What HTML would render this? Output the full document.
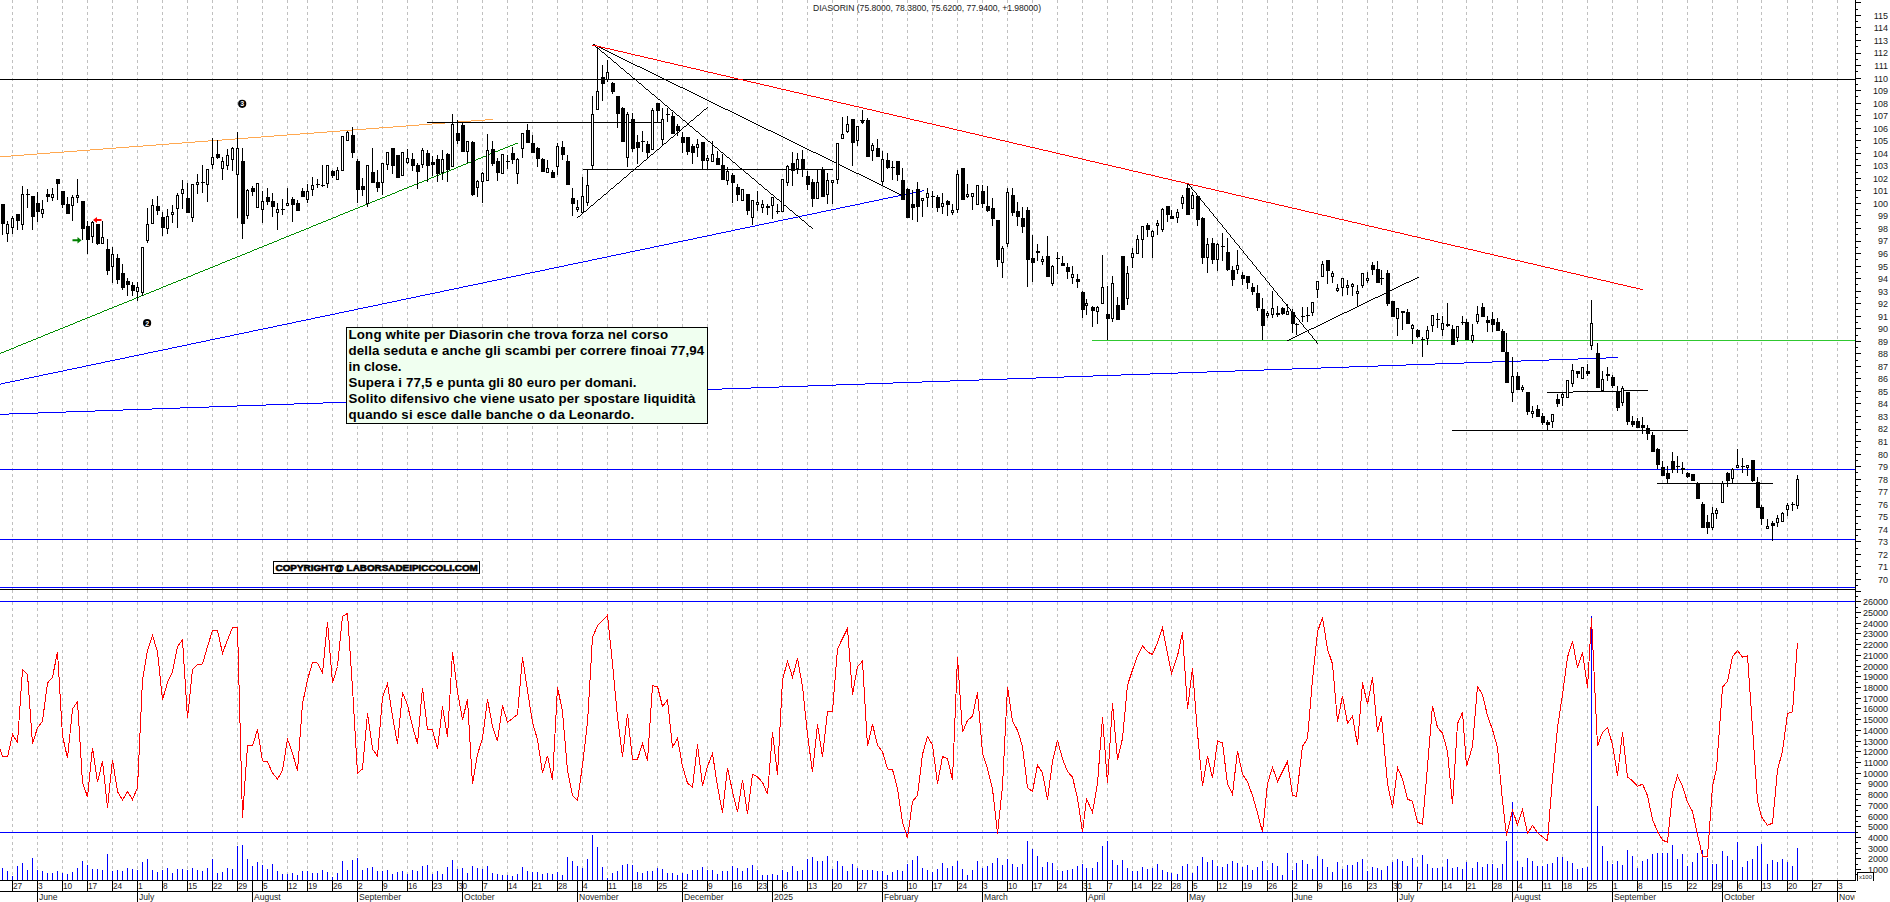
<!DOCTYPE html><html><head><meta charset="utf-8"><title>DIASORIN</title><style>html,body{margin:0;padding:0;background:#fff;overflow:hidden}body{width:1890px;height:902px;position:relative;font-family:"Liberation Sans",sans-serif}</style></head><body><svg width="1890" height="902" viewBox="0 0 1890 902" style="position:absolute;left:0;top:0">
<rect width="1890" height="902" fill="#fff"/>
<g stroke="#c0c0c0" stroke-width="1" shape-rendering="crispEdges" stroke-dasharray="3 3">
<line x1="12.5" y1="0" x2="12.5" y2="589"/>
<line x1="12.5" y1="590" x2="12.5" y2="880"/>
<line x1="37.5" y1="0" x2="37.5" y2="589"/>
<line x1="37.5" y1="590" x2="37.5" y2="880"/>
<line x1="62.5" y1="0" x2="62.5" y2="589"/>
<line x1="62.5" y1="590" x2="62.5" y2="880"/>
<line x1="87.5" y1="0" x2="87.5" y2="589"/>
<line x1="87.5" y1="590" x2="87.5" y2="880"/>
<line x1="112.5" y1="0" x2="112.5" y2="589"/>
<line x1="112.5" y1="590" x2="112.5" y2="880"/>
<line x1="137.5" y1="0" x2="137.5" y2="589"/>
<line x1="137.5" y1="590" x2="137.5" y2="880"/>
<line x1="162.5" y1="0" x2="162.5" y2="589"/>
<line x1="162.5" y1="590" x2="162.5" y2="880"/>
<line x1="187.5" y1="0" x2="187.5" y2="589"/>
<line x1="187.5" y1="590" x2="187.5" y2="880"/>
<line x1="212.5" y1="0" x2="212.5" y2="589"/>
<line x1="212.5" y1="590" x2="212.5" y2="880"/>
<line x1="237.5" y1="0" x2="237.5" y2="589"/>
<line x1="237.5" y1="590" x2="237.5" y2="880"/>
<line x1="262.5" y1="0" x2="262.5" y2="589"/>
<line x1="262.5" y1="590" x2="262.5" y2="880"/>
<line x1="287.5" y1="0" x2="287.5" y2="589"/>
<line x1="287.5" y1="590" x2="287.5" y2="880"/>
<line x1="307.5" y1="0" x2="307.5" y2="589"/>
<line x1="307.5" y1="590" x2="307.5" y2="880"/>
<line x1="332.5" y1="0" x2="332.5" y2="589"/>
<line x1="332.5" y1="590" x2="332.5" y2="880"/>
<line x1="357.5" y1="0" x2="357.5" y2="589"/>
<line x1="357.5" y1="590" x2="357.5" y2="880"/>
<line x1="382.5" y1="0" x2="382.5" y2="589"/>
<line x1="382.5" y1="590" x2="382.5" y2="880"/>
<line x1="407.5" y1="0" x2="407.5" y2="589"/>
<line x1="407.5" y1="590" x2="407.5" y2="880"/>
<line x1="432.5" y1="0" x2="432.5" y2="589"/>
<line x1="432.5" y1="590" x2="432.5" y2="880"/>
<line x1="457.5" y1="0" x2="457.5" y2="589"/>
<line x1="457.5" y1="590" x2="457.5" y2="880"/>
<line x1="482.5" y1="0" x2="482.5" y2="589"/>
<line x1="482.5" y1="590" x2="482.5" y2="880"/>
<line x1="507.5" y1="0" x2="507.5" y2="589"/>
<line x1="507.5" y1="590" x2="507.5" y2="880"/>
<line x1="532.5" y1="0" x2="532.5" y2="589"/>
<line x1="532.5" y1="590" x2="532.5" y2="880"/>
<line x1="557.5" y1="0" x2="557.5" y2="589"/>
<line x1="557.5" y1="590" x2="557.5" y2="880"/>
<line x1="582.5" y1="0" x2="582.5" y2="589"/>
<line x1="582.5" y1="590" x2="582.5" y2="880"/>
<line x1="607.5" y1="0" x2="607.5" y2="589"/>
<line x1="607.5" y1="590" x2="607.5" y2="880"/>
<line x1="632.5" y1="0" x2="632.5" y2="589"/>
<line x1="632.5" y1="590" x2="632.5" y2="880"/>
<line x1="657.5" y1="0" x2="657.5" y2="589"/>
<line x1="657.5" y1="590" x2="657.5" y2="880"/>
<line x1="682.5" y1="0" x2="682.5" y2="589"/>
<line x1="682.5" y1="590" x2="682.5" y2="880"/>
<line x1="707.5" y1="0" x2="707.5" y2="589"/>
<line x1="707.5" y1="590" x2="707.5" y2="880"/>
<line x1="732.5" y1="0" x2="732.5" y2="589"/>
<line x1="732.5" y1="590" x2="732.5" y2="880"/>
<line x1="757.5" y1="0" x2="757.5" y2="589"/>
<line x1="757.5" y1="590" x2="757.5" y2="880"/>
<line x1="782.5" y1="0" x2="782.5" y2="589"/>
<line x1="782.5" y1="590" x2="782.5" y2="880"/>
<line x1="807.5" y1="0" x2="807.5" y2="589"/>
<line x1="807.5" y1="590" x2="807.5" y2="880"/>
<line x1="832.5" y1="0" x2="832.5" y2="589"/>
<line x1="832.5" y1="590" x2="832.5" y2="880"/>
<line x1="857.5" y1="0" x2="857.5" y2="589"/>
<line x1="857.5" y1="590" x2="857.5" y2="880"/>
<line x1="882.5" y1="0" x2="882.5" y2="589"/>
<line x1="882.5" y1="590" x2="882.5" y2="880"/>
<line x1="907.5" y1="0" x2="907.5" y2="589"/>
<line x1="907.5" y1="590" x2="907.5" y2="880"/>
<line x1="932.5" y1="0" x2="932.5" y2="589"/>
<line x1="932.5" y1="590" x2="932.5" y2="880"/>
<line x1="957.5" y1="0" x2="957.5" y2="589"/>
<line x1="957.5" y1="590" x2="957.5" y2="880"/>
<line x1="982.5" y1="0" x2="982.5" y2="589"/>
<line x1="982.5" y1="590" x2="982.5" y2="880"/>
<line x1="1007.5" y1="0" x2="1007.5" y2="589"/>
<line x1="1007.5" y1="590" x2="1007.5" y2="880"/>
<line x1="1032.5" y1="0" x2="1032.5" y2="589"/>
<line x1="1032.5" y1="590" x2="1032.5" y2="880"/>
<line x1="1057.5" y1="0" x2="1057.5" y2="589"/>
<line x1="1057.5" y1="590" x2="1057.5" y2="880"/>
<line x1="1082.5" y1="0" x2="1082.5" y2="589"/>
<line x1="1082.5" y1="590" x2="1082.5" y2="880"/>
<line x1="1107.5" y1="0" x2="1107.5" y2="589"/>
<line x1="1107.5" y1="590" x2="1107.5" y2="880"/>
<line x1="1132.5" y1="0" x2="1132.5" y2="589"/>
<line x1="1132.5" y1="590" x2="1132.5" y2="880"/>
<line x1="1152.5" y1="0" x2="1152.5" y2="589"/>
<line x1="1152.5" y1="590" x2="1152.5" y2="880"/>
<line x1="1171.5" y1="0" x2="1171.5" y2="589"/>
<line x1="1171.5" y1="590" x2="1171.5" y2="880"/>
<line x1="1192.5" y1="0" x2="1192.5" y2="589"/>
<line x1="1192.5" y1="590" x2="1192.5" y2="880"/>
<line x1="1217.5" y1="0" x2="1217.5" y2="589"/>
<line x1="1217.5" y1="590" x2="1217.5" y2="880"/>
<line x1="1242.5" y1="0" x2="1242.5" y2="589"/>
<line x1="1242.5" y1="590" x2="1242.5" y2="880"/>
<line x1="1267.5" y1="0" x2="1267.5" y2="589"/>
<line x1="1267.5" y1="590" x2="1267.5" y2="880"/>
<line x1="1292.5" y1="0" x2="1292.5" y2="589"/>
<line x1="1292.5" y1="590" x2="1292.5" y2="880"/>
<line x1="1317.5" y1="0" x2="1317.5" y2="589"/>
<line x1="1317.5" y1="590" x2="1317.5" y2="880"/>
<line x1="1342.5" y1="0" x2="1342.5" y2="589"/>
<line x1="1342.5" y1="590" x2="1342.5" y2="880"/>
<line x1="1367.5" y1="0" x2="1367.5" y2="589"/>
<line x1="1367.5" y1="590" x2="1367.5" y2="880"/>
<line x1="1392.5" y1="0" x2="1392.5" y2="589"/>
<line x1="1392.5" y1="590" x2="1392.5" y2="880"/>
<line x1="1417.5" y1="0" x2="1417.5" y2="589"/>
<line x1="1417.5" y1="590" x2="1417.5" y2="880"/>
<line x1="1442.5" y1="0" x2="1442.5" y2="589"/>
<line x1="1442.5" y1="590" x2="1442.5" y2="880"/>
<line x1="1466.5" y1="0" x2="1466.5" y2="589"/>
<line x1="1466.5" y1="590" x2="1466.5" y2="880"/>
<line x1="1492.5" y1="0" x2="1492.5" y2="589"/>
<line x1="1492.5" y1="590" x2="1492.5" y2="880"/>
<line x1="1517.5" y1="0" x2="1517.5" y2="589"/>
<line x1="1517.5" y1="590" x2="1517.5" y2="880"/>
<line x1="1542.5" y1="0" x2="1542.5" y2="589"/>
<line x1="1542.5" y1="590" x2="1542.5" y2="880"/>
<line x1="1562.5" y1="0" x2="1562.5" y2="589"/>
<line x1="1562.5" y1="590" x2="1562.5" y2="880"/>
<line x1="1587.5" y1="0" x2="1587.5" y2="589"/>
<line x1="1587.5" y1="590" x2="1587.5" y2="880"/>
<line x1="1612.5" y1="0" x2="1612.5" y2="589"/>
<line x1="1612.5" y1="590" x2="1612.5" y2="880"/>
<line x1="1637.5" y1="0" x2="1637.5" y2="589"/>
<line x1="1637.5" y1="590" x2="1637.5" y2="880"/>
<line x1="1662.5" y1="0" x2="1662.5" y2="589"/>
<line x1="1662.5" y1="590" x2="1662.5" y2="880"/>
<line x1="1687.5" y1="0" x2="1687.5" y2="589"/>
<line x1="1687.5" y1="590" x2="1687.5" y2="880"/>
<line x1="1712.5" y1="0" x2="1712.5" y2="589"/>
<line x1="1712.5" y1="590" x2="1712.5" y2="880"/>
<line x1="1737.5" y1="0" x2="1737.5" y2="589"/>
<line x1="1737.5" y1="590" x2="1737.5" y2="880"/>
<line x1="1761.5" y1="0" x2="1761.5" y2="589"/>
<line x1="1761.5" y1="590" x2="1761.5" y2="880"/>
<line x1="1787.5" y1="0" x2="1787.5" y2="589"/>
<line x1="1787.5" y1="590" x2="1787.5" y2="880"/>
<line x1="1812.5" y1="0" x2="1812.5" y2="589"/>
<line x1="1812.5" y1="590" x2="1812.5" y2="880"/>
<line x1="1837.5" y1="0" x2="1837.5" y2="589"/>
<line x1="1837.5" y1="590" x2="1837.5" y2="880"/>
</g>
<g shape-rendering="crispEdges">
<path d="M0 79h1856v1h-1856z" fill="#000"/>
<path d="M0 469h1856v1h-1856z" fill="#0000ff"/>
<path d="M0 539h1856v1h-1856z" fill="#0000ff"/>
<path d="M0 587h1856v1h-1856z" fill="#0000ff"/>
<path d="M0 589h1856v1h-1856z" fill="#000"/>
<path d="M0 601h1856v1h-1856z" fill="#0000ff"/>
<path d="M0 832h1856v1h-1856z" fill="#0000ff"/>
<path d="M1092 340h764v1h-764z" fill="#30c830"/>
<path d="M0 156h11v1h-11zM11 155h13v1h-13zM24 154h13v1h-13zM37 153h13v1h-13zM50 152h14v1h-14zM64 151h13v1h-13zM77 150h13v1h-13zM90 149h13v1h-13zM103 148h13v1h-13zM116 147h13v1h-13zM129 146h14v1h-14zM143 145h13v1h-13zM156 144h13v1h-13zM169 143h13v1h-13zM182 142h13v1h-13zM195 141h13v1h-13zM208 140h14v1h-14zM222 139h13v1h-13zM235 138h13v1h-13zM248 137h13v1h-13zM261 136h13v1h-13zM274 135h13v1h-13zM287 134h13v1h-13zM300 133h14v1h-14zM314 132h13v1h-13zM327 131h13v1h-13zM340 130h13v1h-13zM353 129h13v1h-13zM366 128h13v1h-13zM379 127h14v1h-14zM393 126h13v1h-13zM406 125h13v1h-13zM419 124h13v1h-13zM432 123h13v1h-13zM445 122h13v1h-13zM458 121h13v1h-13zM471 120h14v1h-14zM485 119h8v1h-8z" fill="#ffa850"/>
<path d="M0 353h1v1h-1zM1 352h3v1h-3zM4 351h2v1h-2zM6 350h3v1h-3zM9 349h2v1h-2zM11 348h3v1h-3zM14 347h2v1h-2zM16 346h2v1h-2zM18 345h3v1h-3zM21 344h2v1h-2zM23 343h3v1h-3zM26 342h2v1h-2zM28 341h3v1h-3zM31 340h2v1h-2zM33 339h3v1h-3zM36 338h2v1h-2zM38 337h3v1h-3zM41 336h2v1h-2zM43 335h2v1h-2zM45 334h3v1h-3zM48 333h2v1h-2zM50 332h3v1h-3zM53 331h2v1h-2zM55 330h3v1h-3zM58 329h2v1h-2zM60 328h3v1h-3zM63 327h2v1h-2zM65 326h3v1h-3zM68 325h2v1h-2zM70 324h3v1h-3zM73 323h2v1h-2zM75 322h2v1h-2zM77 321h3v1h-3zM80 320h2v1h-2zM82 319h3v1h-3zM85 318h2v1h-2zM87 317h3v1h-3zM90 316h2v1h-2zM92 315h3v1h-3zM95 314h2v1h-2zM97 313h3v1h-3zM100 312h2v1h-2zM102 311h2v1h-2zM104 310h3v1h-3zM107 309h2v1h-2zM109 308h3v1h-3zM112 307h2v1h-2zM114 306h3v1h-3zM117 305h2v1h-2zM119 304h3v1h-3zM122 303h2v1h-2zM124 302h3v1h-3zM127 301h2v1h-2zM129 300h3v1h-3zM132 299h2v1h-2zM134 298h2v1h-2zM136 297h3v1h-3zM139 296h2v1h-2zM141 295h3v1h-3zM144 294h2v1h-2zM146 293h3v1h-3zM149 292h2v1h-2zM151 291h3v1h-3zM154 290h2v1h-2zM156 289h3v1h-3zM159 288h2v1h-2zM161 287h2v1h-2zM163 286h3v1h-3zM166 285h2v1h-2zM168 284h3v1h-3zM171 283h2v1h-2zM173 282h3v1h-3zM176 281h2v1h-2zM178 280h3v1h-3zM181 279h2v1h-2zM183 278h3v1h-3zM186 277h2v1h-2zM188 276h3v1h-3zM191 275h2v1h-2zM193 274h2v1h-2zM195 273h3v1h-3zM198 272h2v1h-2zM200 271h3v1h-3zM203 270h2v1h-2zM205 269h3v1h-3zM208 268h2v1h-2zM210 267h3v1h-3zM213 266h2v1h-2zM215 265h3v1h-3zM218 264h2v1h-2zM220 263h2v1h-2zM222 262h3v1h-3zM225 261h2v1h-2zM227 260h3v1h-3zM230 259h2v1h-2zM232 258h3v1h-3zM235 257h2v1h-2zM237 256h3v1h-3zM240 255h2v1h-2zM242 254h3v1h-3zM245 253h2v1h-2zM247 252h3v1h-3zM250 251h2v1h-2zM252 250h2v1h-2zM254 249h3v1h-3zM257 248h2v1h-2zM259 247h3v1h-3zM262 246h2v1h-2zM264 245h3v1h-3zM267 244h2v1h-2zM269 243h3v1h-3zM272 242h2v1h-2zM274 241h3v1h-3zM277 240h2v1h-2zM279 239h2v1h-2zM281 238h3v1h-3zM284 237h2v1h-2zM286 236h3v1h-3zM289 235h2v1h-2zM291 234h3v1h-3zM294 233h2v1h-2zM296 232h3v1h-3zM299 231h2v1h-2zM301 230h3v1h-3zM304 229h2v1h-2zM306 228h3v1h-3zM309 227h2v1h-2zM311 226h2v1h-2zM313 225h3v1h-3zM316 224h2v1h-2zM318 223h3v1h-3zM321 222h2v1h-2zM323 221h3v1h-3zM326 220h2v1h-2zM328 219h3v1h-3zM331 218h2v1h-2zM333 217h3v1h-3zM336 216h2v1h-2zM338 215h2v1h-2zM340 214h3v1h-3zM343 213h2v1h-2zM345 212h3v1h-3zM348 211h2v1h-2zM350 210h3v1h-3zM353 209h2v1h-2zM355 208h3v1h-3zM358 207h2v1h-2zM360 206h3v1h-3zM363 205h2v1h-2zM365 204h3v1h-3zM368 203h2v1h-2zM370 202h2v1h-2zM372 201h3v1h-3zM375 200h2v1h-2zM377 199h3v1h-3zM380 198h2v1h-2zM382 197h3v1h-3zM385 196h2v1h-2zM387 195h3v1h-3zM390 194h2v1h-2zM392 193h3v1h-3zM395 192h2v1h-2zM397 191h2v1h-2zM399 190h3v1h-3zM402 189h2v1h-2zM404 188h3v1h-3zM407 187h2v1h-2zM409 186h3v1h-3zM412 185h2v1h-2zM414 184h3v1h-3zM417 183h2v1h-2zM419 182h3v1h-3zM422 181h2v1h-2zM424 180h3v1h-3zM427 179h2v1h-2zM429 178h2v1h-2zM431 177h3v1h-3zM434 176h2v1h-2zM436 175h3v1h-3zM439 174h2v1h-2zM441 173h3v1h-3zM444 172h2v1h-2zM446 171h3v1h-3zM449 170h2v1h-2zM451 169h3v1h-3zM454 168h2v1h-2zM456 167h2v1h-2zM458 166h3v1h-3zM461 165h2v1h-2zM463 164h3v1h-3zM466 163h2v1h-2zM468 162h3v1h-3zM471 161h2v1h-2zM473 160h3v1h-3zM476 159h2v1h-2zM478 158h3v1h-3zM481 157h2v1h-2zM483 156h3v1h-3zM486 155h2v1h-2zM488 154h2v1h-2zM490 153h3v1h-3zM493 152h2v1h-2zM495 151h3v1h-3zM498 150h2v1h-2zM500 149h3v1h-3zM503 148h2v1h-2zM505 147h3v1h-3zM508 146h2v1h-2zM510 145h3v1h-3zM513 144h2v1h-2zM515 143h3v1h-3z" fill="#008c00"/>
<path d="M0 384h1v1h-1zM1 383h4v1h-4zM5 382h5v1h-5zM10 381h5v1h-5zM15 380h5v1h-5zM20 379h4v1h-4zM24 378h5v1h-5zM29 377h5v1h-5zM34 376h5v1h-5zM39 375h4v1h-4zM43 374h5v1h-5zM48 373h5v1h-5zM53 372h5v1h-5zM58 371h5v1h-5zM63 370h4v1h-4zM67 369h5v1h-5zM72 368h5v1h-5zM77 367h5v1h-5zM82 366h4v1h-4zM86 365h5v1h-5zM91 364h5v1h-5zM96 363h5v1h-5zM101 362h4v1h-4zM105 361h5v1h-5zM110 360h5v1h-5zM115 359h5v1h-5zM120 358h5v1h-5zM125 357h4v1h-4zM129 356h5v1h-5zM134 355h5v1h-5zM139 354h5v1h-5zM144 353h4v1h-4zM148 352h5v1h-5zM153 351h5v1h-5zM158 350h5v1h-5zM163 349h5v1h-5zM168 348h4v1h-4zM172 347h5v1h-5zM177 346h5v1h-5zM182 345h5v1h-5zM187 344h4v1h-4zM191 343h5v1h-5zM196 342h5v1h-5zM201 341h5v1h-5zM206 340h4v1h-4zM210 339h5v1h-5zM215 338h5v1h-5zM220 337h5v1h-5zM225 336h5v1h-5zM230 335h4v1h-4zM234 334h5v1h-5zM239 333h5v1h-5zM244 332h5v1h-5zM249 331h4v1h-4zM253 330h5v1h-5zM258 329h5v1h-5zM263 328h5v1h-5zM268 327h5v1h-5zM273 326h4v1h-4zM277 325h5v1h-5zM282 324h5v1h-5zM287 323h5v1h-5zM292 322h4v1h-4zM296 321h5v1h-5zM301 320h5v1h-5zM306 319h5v1h-5zM311 318h4v1h-4zM315 317h5v1h-5zM320 316h5v1h-5zM325 315h5v1h-5zM330 314h5v1h-5zM335 313h4v1h-4zM339 312h5v1h-5zM344 311h5v1h-5zM349 310h5v1h-5zM354 309h4v1h-4zM358 308h5v1h-5zM363 307h5v1h-5zM368 306h5v1h-5zM373 305h5v1h-5zM378 304h4v1h-4zM382 303h5v1h-5zM387 302h5v1h-5zM392 301h5v1h-5zM397 300h4v1h-4zM401 299h5v1h-5zM406 298h5v1h-5zM411 297h5v1h-5zM416 296h4v1h-4zM420 295h5v1h-5zM425 294h5v1h-5zM430 293h5v1h-5zM435 292h5v1h-5zM440 291h4v1h-4zM444 290h5v1h-5zM449 289h5v1h-5zM454 288h5v1h-5zM459 287h4v1h-4zM463 286h5v1h-5zM468 285h5v1h-5zM473 284h5v1h-5zM478 283h5v1h-5zM483 282h4v1h-4zM487 281h5v1h-5zM492 280h5v1h-5zM497 279h5v1h-5zM502 278h4v1h-4zM506 277h5v1h-5zM511 276h5v1h-5zM516 275h5v1h-5zM521 274h4v1h-4zM525 273h5v1h-5zM530 272h5v1h-5zM535 271h5v1h-5zM540 270h5v1h-5zM545 269h4v1h-4zM549 268h5v1h-5zM554 267h5v1h-5zM559 266h5v1h-5zM564 265h4v1h-4zM568 264h5v1h-5zM573 263h5v1h-5zM578 262h5v1h-5zM583 261h5v1h-5zM588 260h4v1h-4zM592 259h5v1h-5zM597 258h5v1h-5zM602 257h5v1h-5zM607 256h4v1h-4zM611 255h5v1h-5zM616 254h5v1h-5zM621 253h5v1h-5zM626 252h4v1h-4zM630 251h5v1h-5zM635 250h5v1h-5zM640 249h5v1h-5zM645 248h5v1h-5zM650 247h4v1h-4zM654 246h5v1h-5zM659 245h5v1h-5zM664 244h5v1h-5zM669 243h4v1h-4zM673 242h5v1h-5zM678 241h5v1h-5zM683 240h5v1h-5zM688 239h5v1h-5zM693 238h4v1h-4zM697 237h5v1h-5zM702 236h5v1h-5zM707 235h5v1h-5zM712 234h4v1h-4zM716 233h5v1h-5zM721 232h5v1h-5zM726 231h5v1h-5zM731 230h4v1h-4zM735 229h5v1h-5zM740 228h5v1h-5zM745 227h5v1h-5zM750 226h5v1h-5zM755 225h4v1h-4zM759 224h5v1h-5zM764 223h5v1h-5zM769 222h5v1h-5zM774 221h4v1h-4zM778 220h5v1h-5zM783 219h5v1h-5zM788 218h5v1h-5zM793 217h5v1h-5zM798 216h4v1h-4zM802 215h5v1h-5zM807 214h5v1h-5zM812 213h5v1h-5zM817 212h4v1h-4zM821 211h5v1h-5zM826 210h5v1h-5zM831 209h5v1h-5zM836 208h4v1h-4zM840 207h5v1h-5zM845 206h5v1h-5zM850 205h5v1h-5zM855 204h5v1h-5zM860 203h4v1h-4zM864 202h5v1h-5zM869 201h5v1h-5zM874 200h5v1h-5zM879 199h4v1h-4zM883 198h5v1h-5zM888 197h5v1h-5zM893 196h5v1h-5zM898 195h5v1h-5zM903 194h4v1h-4zM907 193h5v1h-5zM912 192h5v1h-5zM917 191h5v1h-5zM922 190h2v1h-2z" fill="#0000ff"/>
<path d="M0 414h9v1h-9zM9 413h29v1h-29zM38 412h28v1h-28zM66 411h29v1h-29zM95 410h28v1h-28zM123 409h29v1h-29zM152 408h28v1h-28zM180 407h29v1h-29zM209 406h28v1h-28zM237 405h29v1h-29zM266 404h28v1h-28zM294 403h29v1h-29zM323 402h28v1h-28zM351 401h29v1h-29zM380 400h28v1h-28zM408 399h29v1h-29zM437 398h28v1h-28zM465 397h29v1h-29zM494 396h28v1h-28zM522 395h29v1h-29zM551 394h28v1h-28zM579 393h29v1h-29zM608 392h28v1h-28zM636 391h29v1h-29zM665 390h29v1h-29zM694 389h28v1h-28zM722 388h29v1h-29zM751 387h28v1h-28zM779 386h29v1h-29zM808 385h28v1h-28zM836 384h29v1h-29zM865 383h28v1h-28zM893 382h29v1h-29zM922 381h28v1h-28zM950 380h29v1h-29zM979 379h28v1h-28zM1007 378h29v1h-29zM1036 377h28v1h-28zM1064 376h29v1h-29zM1093 375h28v1h-28zM1121 374h29v1h-29zM1150 373h28v1h-28zM1178 372h29v1h-29zM1207 371h28v1h-28zM1235 370h29v1h-29zM1264 369h28v1h-28zM1292 368h29v1h-29zM1321 367h28v1h-28zM1349 366h29v1h-29zM1378 365h28v1h-28zM1406 364h29v1h-29zM1435 363h29v1h-29zM1464 362h28v1h-28zM1492 361h29v1h-29zM1521 360h28v1h-28zM1549 359h29v1h-29zM1578 358h28v1h-28zM1606 357h12v1h-12z" fill="#0000ff"/>
<path d="M593 44h2v1h-2zM595 45h2v1h-2zM597 46h2v1h-2zM599 47h2v1h-2zM601 48h2v1h-2zM603 49h2v1h-2zM605 50h2v1h-2zM607 51h2v1h-2zM609 52h2v1h-2zM611 53h2v1h-2zM613 54h2v1h-2zM615 55h2v1h-2zM617 56h2v1h-2zM619 57h2v1h-2zM621 58h2v1h-2zM623 59h2v1h-2zM625 60h2v1h-2zM627 61h2v1h-2zM629 62h2v1h-2zM631 63h2v1h-2zM633 64h2v1h-2zM635 65h2v1h-2zM637 66h3v1h-3zM640 67h2v1h-2zM642 68h2v1h-2zM644 69h2v1h-2zM646 70h2v1h-2zM648 71h2v1h-2zM650 72h2v1h-2zM652 73h2v1h-2zM654 74h2v1h-2zM656 75h2v1h-2zM658 76h2v1h-2zM660 77h2v1h-2zM662 78h2v1h-2zM664 79h2v1h-2zM666 80h2v1h-2zM668 81h2v1h-2zM670 82h2v1h-2zM672 83h2v1h-2zM674 84h2v1h-2zM676 85h2v1h-2zM678 86h2v1h-2zM680 87h3v1h-3zM683 88h2v1h-2zM685 89h2v1h-2zM687 90h2v1h-2zM689 91h2v1h-2zM691 92h2v1h-2zM693 93h2v1h-2zM695 94h2v1h-2zM697 95h2v1h-2zM699 96h2v1h-2zM701 97h2v1h-2zM703 98h2v1h-2zM705 99h2v1h-2zM707 100h2v1h-2zM709 101h2v1h-2zM711 102h2v1h-2zM713 103h2v1h-2zM715 104h2v1h-2zM717 105h2v1h-2zM719 106h2v1h-2zM721 107h2v1h-2zM723 108h2v1h-2zM725 109h3v1h-3zM728 110h2v1h-2zM730 111h2v1h-2zM732 112h2v1h-2zM734 113h2v1h-2zM736 114h2v1h-2zM738 115h2v1h-2zM740 116h2v1h-2zM742 117h2v1h-2zM744 118h2v1h-2zM746 119h2v1h-2zM748 120h2v1h-2zM750 121h2v1h-2zM752 122h2v1h-2zM754 123h2v1h-2zM756 124h2v1h-2zM758 125h2v1h-2zM760 126h2v1h-2zM762 127h2v1h-2zM764 128h2v1h-2zM766 129h2v1h-2zM768 130h3v1h-3zM771 131h2v1h-2zM773 132h2v1h-2zM775 133h2v1h-2zM777 134h2v1h-2zM779 135h2v1h-2zM781 136h2v1h-2zM783 137h2v1h-2zM785 138h2v1h-2zM787 139h2v1h-2zM789 140h2v1h-2zM791 141h2v1h-2zM793 142h2v1h-2zM795 143h2v1h-2zM797 144h2v1h-2zM799 145h2v1h-2zM801 146h2v1h-2zM803 147h2v1h-2zM805 148h2v1h-2zM807 149h2v1h-2zM809 150h2v1h-2zM811 151h2v1h-2zM813 152h3v1h-3zM816 153h2v1h-2zM818 154h2v1h-2zM820 155h2v1h-2zM822 156h2v1h-2zM824 157h2v1h-2zM826 158h2v1h-2zM828 159h2v1h-2zM830 160h2v1h-2zM832 161h2v1h-2zM834 162h2v1h-2zM836 163h2v1h-2zM838 164h2v1h-2zM840 165h2v1h-2zM842 166h2v1h-2zM844 167h2v1h-2zM846 168h2v1h-2zM848 169h2v1h-2zM850 170h2v1h-2zM852 171h2v1h-2zM854 172h2v1h-2zM856 173h3v1h-3zM859 174h2v1h-2zM861 175h2v1h-2zM863 176h2v1h-2zM865 177h2v1h-2zM867 178h2v1h-2zM869 179h2v1h-2zM871 180h2v1h-2zM873 181h2v1h-2zM875 182h2v1h-2zM877 183h2v1h-2zM879 184h2v1h-2zM881 185h2v1h-2zM883 186h2v1h-2zM885 187h2v1h-2zM887 188h2v1h-2zM889 189h2v1h-2zM891 190h2v1h-2zM893 191h2v1h-2zM895 192h2v1h-2zM897 193h2v1h-2zM899 194h2v1h-2zM901 195h2v1h-2z" fill="#000"/>
<path d="M593 44h1v1h-1zM594 45h1v1h-1zM595 46h1v1h-1zM596 47h2v1h-2zM598 48h1v1h-1zM599 49h1v1h-1zM600 50h1v1h-1zM601 51h1v1h-1zM602 52h2v1h-2zM604 53h1v1h-1zM605 54h1v1h-1zM606 55h1v1h-1zM607 56h1v1h-1zM608 57h2v1h-2zM610 58h1v1h-1zM611 59h1v1h-1zM612 60h1v1h-1zM613 61h1v1h-1zM614 62h2v1h-2zM616 63h1v1h-1zM617 64h1v1h-1zM618 65h1v1h-1zM619 66h1v1h-1zM620 67h1v1h-1zM621 68h2v1h-2zM623 69h1v1h-1zM624 70h1v1h-1zM625 71h1v1h-1zM626 72h1v1h-1zM627 73h2v1h-2zM629 74h1v1h-1zM630 75h1v1h-1zM631 76h1v1h-1zM632 77h1v1h-1zM633 78h2v1h-2zM635 79h1v1h-1zM636 80h1v1h-1zM637 81h1v1h-1zM638 82h1v1h-1zM639 83h2v1h-2zM641 84h1v1h-1zM642 85h1v1h-1zM643 86h1v1h-1zM644 87h1v1h-1zM645 88h1v1h-1zM646 89h2v1h-2zM648 90h1v1h-1zM649 91h1v1h-1zM650 92h1v1h-1zM651 93h1v1h-1zM652 94h2v1h-2zM654 95h1v1h-1zM655 96h1v1h-1zM656 97h1v1h-1zM657 98h1v1h-1zM658 99h2v1h-2zM660 100h1v1h-1zM661 101h1v1h-1zM662 102h1v1h-1zM663 103h1v1h-1zM664 104h1v1h-1zM665 105h2v1h-2zM667 106h1v1h-1zM668 107h1v1h-1zM669 108h1v1h-1zM670 109h1v1h-1zM671 110h2v1h-2zM673 111h1v1h-1zM674 112h1v1h-1zM675 113h1v1h-1zM676 114h1v1h-1zM677 115h2v1h-2zM679 116h1v1h-1zM680 117h1v1h-1zM681 118h1v1h-1zM682 119h1v1h-1zM683 120h2v1h-2zM685 121h1v1h-1zM686 122h1v1h-1zM687 123h1v1h-1zM688 124h1v1h-1zM689 125h1v1h-1zM690 126h2v1h-2zM692 127h1v1h-1zM693 128h1v1h-1zM694 129h1v1h-1zM695 130h1v1h-1zM696 131h2v1h-2zM698 132h1v1h-1zM699 133h1v1h-1zM700 134h1v1h-1zM701 135h1v1h-1zM702 136h2v1h-2zM704 137h1v1h-1zM705 138h1v1h-1zM706 139h1v1h-1zM707 140h1v1h-1zM708 141h2v1h-2zM710 142h1v1h-1zM711 143h1v1h-1zM712 144h1v1h-1zM713 145h1v1h-1zM714 146h1v1h-1zM715 147h2v1h-2zM717 148h1v1h-1zM718 149h1v1h-1zM719 150h1v1h-1zM720 151h1v1h-1zM721 152h2v1h-2zM723 153h1v1h-1zM724 154h1v1h-1zM725 155h1v1h-1zM726 156h1v1h-1zM727 157h2v1h-2zM729 158h1v1h-1zM730 159h1v1h-1zM731 160h1v1h-1zM732 161h1v1h-1zM733 162h2v1h-2zM735 163h1v1h-1zM736 164h1v1h-1zM737 165h1v1h-1zM738 166h1v1h-1zM739 167h1v1h-1zM740 168h2v1h-2zM742 169h1v1h-1zM743 170h1v1h-1zM744 171h1v1h-1zM745 172h1v1h-1zM746 173h2v1h-2zM748 174h1v1h-1zM749 175h1v1h-1zM750 176h1v1h-1zM751 177h1v1h-1zM752 178h2v1h-2zM754 179h1v1h-1zM755 180h1v1h-1zM756 181h1v1h-1zM757 182h1v1h-1zM758 183h1v1h-1zM759 184h2v1h-2zM761 185h1v1h-1zM762 186h1v1h-1zM763 187h1v1h-1zM764 188h1v1h-1zM765 189h2v1h-2zM767 190h1v1h-1zM768 191h1v1h-1zM769 192h1v1h-1zM770 193h1v1h-1zM771 194h2v1h-2zM773 195h1v1h-1zM774 196h1v1h-1zM775 197h1v1h-1zM776 198h1v1h-1zM777 199h2v1h-2zM779 200h1v1h-1zM780 201h1v1h-1zM781 202h1v1h-1zM782 203h1v1h-1zM783 204h1v1h-1zM784 205h2v1h-2zM786 206h1v1h-1zM787 207h1v1h-1zM788 208h1v1h-1zM789 209h1v1h-1zM790 210h2v1h-2zM792 211h1v1h-1zM793 212h1v1h-1zM794 213h1v1h-1zM795 214h1v1h-1zM796 215h2v1h-2zM798 216h1v1h-1zM799 217h1v1h-1zM800 218h1v1h-1zM801 219h1v1h-1zM802 220h2v1h-2zM804 221h1v1h-1zM805 222h1v1h-1zM806 223h1v1h-1zM807 224h1v1h-1zM808 225h1v1h-1zM809 226h2v1h-2zM811 227h1v1h-1zM812 228h1v1h-1z" fill="#000"/>
<path d="M577 217h1v1h-1zM578 216h2v1h-2zM580 215h1v1h-1zM581 214h1v1h-1zM582 213h1v1h-1zM583 212h1v1h-1zM584 211h2v1h-2zM586 210h1v1h-1zM587 209h1v1h-1zM588 208h1v1h-1zM589 207h1v1h-1zM590 206h1v1h-1zM591 205h2v1h-2zM593 204h1v1h-1zM594 203h1v1h-1zM595 202h1v1h-1zM596 201h1v1h-1zM597 200h1v1h-1zM598 199h2v1h-2zM600 198h1v1h-1zM601 197h1v1h-1zM602 196h1v1h-1zM603 195h1v1h-1zM604 194h2v1h-2zM606 193h1v1h-1zM607 192h1v1h-1zM608 191h1v1h-1zM609 190h1v1h-1zM610 189h1v1h-1zM611 188h2v1h-2zM613 187h1v1h-1zM614 186h1v1h-1zM615 185h1v1h-1zM616 184h1v1h-1zM617 183h2v1h-2zM619 182h1v1h-1zM620 181h1v1h-1zM621 180h1v1h-1zM622 179h1v1h-1zM623 178h1v1h-1zM624 177h2v1h-2zM626 176h1v1h-1zM627 175h1v1h-1zM628 174h1v1h-1zM629 173h1v1h-1zM630 172h1v1h-1zM631 171h2v1h-2zM633 170h1v1h-1zM634 169h1v1h-1zM635 168h1v1h-1zM636 167h1v1h-1zM637 166h2v1h-2zM639 165h1v1h-1zM640 164h1v1h-1zM641 163h1v1h-1zM642 162h1v1h-1zM643 161h1v1h-1zM644 160h2v1h-2zM646 159h1v1h-1zM647 158h1v1h-1zM648 157h1v1h-1zM649 156h1v1h-1zM650 155h1v1h-1zM651 154h2v1h-2zM653 153h1v1h-1zM654 152h1v1h-1zM655 151h1v1h-1zM656 150h1v1h-1zM657 149h2v1h-2zM659 148h1v1h-1zM660 147h1v1h-1zM661 146h1v1h-1zM662 145h1v1h-1zM663 144h1v1h-1zM664 143h2v1h-2zM666 142h1v1h-1zM667 141h1v1h-1zM668 140h1v1h-1zM669 139h1v1h-1zM670 138h1v1h-1zM671 137h2v1h-2zM673 136h1v1h-1zM674 135h1v1h-1zM675 134h1v1h-1zM676 133h1v1h-1zM677 132h2v1h-2zM679 131h1v1h-1zM680 130h1v1h-1zM681 129h1v1h-1zM682 128h1v1h-1zM683 127h1v1h-1zM684 126h2v1h-2zM686 125h1v1h-1zM687 124h1v1h-1zM688 123h1v1h-1zM689 122h1v1h-1zM690 121h1v1h-1zM691 120h2v1h-2zM693 119h1v1h-1zM694 118h1v1h-1zM695 117h1v1h-1zM696 116h1v1h-1zM697 115h2v1h-2zM699 114h1v1h-1zM700 113h1v1h-1zM701 112h1v1h-1zM702 111h1v1h-1zM703 110h1v1h-1zM704 109h2v1h-2zM706 108h1v1h-1zM707 107h1v1h-1z" fill="#000"/>
<path d="M427 122h237v1h-237z" fill="#000"/>
<path d="M583 169h250v1h-250z" fill="#000"/>
<path d="M1188 184v1h1v-1zM1189 185v1h1v-1zM1190 186v1h1v-1zM1191 187v2h1v-2zM1192 189v1h1v-1zM1193 190v1h1v-1zM1194 191v1h1v-1zM1195 192v1h1v-1zM1196 193v2h1v-2zM1197 195v1h1v-1zM1198 196v1h1v-1zM1199 197v1h1v-1zM1200 198v2h1v-2zM1201 200v1h1v-1zM1202 201v1h1v-1zM1203 202v1h1v-1zM1204 203v2h1v-2zM1205 205v1h1v-1zM1206 206v1h1v-1zM1207 207v1h1v-1zM1208 208v1h1v-1zM1209 209v2h1v-2zM1210 211v1h1v-1zM1211 212v1h1v-1zM1212 213v1h1v-1zM1213 214v2h1v-2zM1214 216v1h1v-1zM1215 217v1h1v-1zM1216 218v1h1v-1zM1217 219v2h1v-2zM1218 221v1h1v-1zM1219 222v1h1v-1zM1220 223v1h1v-1zM1221 224v1h1v-1zM1222 225v2h1v-2zM1223 227v1h1v-1zM1224 228v1h1v-1zM1225 229v1h1v-1zM1226 230v2h1v-2zM1227 232v1h1v-1zM1228 233v1h1v-1zM1229 234v1h1v-1zM1230 235v2h1v-2zM1231 237v1h1v-1zM1232 238v1h1v-1zM1233 239v1h1v-1zM1234 240v2h1v-2zM1235 242v1h1v-1zM1236 243v1h1v-1zM1237 244v1h1v-1zM1238 245v1h1v-1zM1239 246v2h1v-2zM1240 248v1h1v-1zM1241 249v1h1v-1zM1242 250v1h1v-1zM1243 251v2h1v-2zM1244 253v1h1v-1zM1245 254v1h1v-1zM1246 255v1h1v-1zM1247 256v2h1v-2zM1248 258v1h1v-1zM1249 259v1h1v-1zM1250 260v1h1v-1zM1251 261v1h1v-1zM1252 262v2h1v-2zM1253 264v1h1v-1zM1254 265v1h1v-1zM1255 266v1h1v-1zM1256 267v2h1v-2zM1257 269v1h1v-1zM1258 270v1h1v-1zM1259 271v1h1v-1zM1260 272v2h1v-2zM1261 274v1h1v-1zM1262 275v1h1v-1zM1263 276v1h1v-1zM1264 277v1h1v-1zM1265 278v2h1v-2zM1266 280v1h1v-1zM1267 281v1h1v-1zM1268 282v1h1v-1zM1269 283v2h1v-2zM1270 285v1h1v-1zM1271 286v1h1v-1zM1272 287v1h1v-1zM1273 288v2h1v-2zM1274 290v1h1v-1zM1275 291v1h1v-1zM1276 292v1h1v-1zM1277 293v2h1v-2zM1278 295v1h1v-1zM1279 296v1h1v-1zM1280 297v1h1v-1zM1281 298v1h1v-1zM1282 299v2h1v-2zM1283 301v1h1v-1zM1284 302v1h1v-1zM1285 303v1h1v-1zM1286 304v2h1v-2zM1287 306v1h1v-1zM1288 307v1h1v-1zM1289 308v1h1v-1zM1290 309v2h1v-2zM1291 311v1h1v-1zM1292 312v1h1v-1zM1293 313v1h1v-1zM1294 314v1h1v-1zM1295 315v2h1v-2zM1296 317v1h1v-1zM1297 318v1h1v-1zM1298 319v1h1v-1zM1299 320v2h1v-2zM1300 322v1h1v-1zM1301 323v1h1v-1zM1302 324v1h1v-1zM1303 325v2h1v-2zM1304 327v1h1v-1zM1305 328v1h1v-1zM1306 329v1h1v-1zM1307 330v1h1v-1zM1308 331v2h1v-2zM1309 333v1h1v-1zM1310 334v1h1v-1zM1311 335v1h1v-1zM1312 336v2h1v-2zM1313 338v1h1v-1zM1314 339v1h1v-1zM1315 340v1h1v-1zM1316 341v2h1v-2zM1317 343v1h1v-1z" fill="#000"/>
<path d="M1287 340h2v1h-2zM1289 339h2v1h-2zM1291 338h2v1h-2zM1293 337h2v1h-2zM1295 336h2v1h-2zM1297 335h2v1h-2zM1299 334h2v1h-2zM1301 333h2v1h-2zM1303 332h2v1h-2zM1305 331h2v1h-2zM1307 330h2v1h-2zM1309 329h2v1h-2zM1311 328h3v1h-3zM1314 327h2v1h-2zM1316 326h2v1h-2zM1318 325h2v1h-2zM1320 324h2v1h-2zM1322 323h2v1h-2zM1324 322h2v1h-2zM1326 321h2v1h-2zM1328 320h2v1h-2zM1330 319h2v1h-2zM1332 318h2v1h-2zM1334 317h2v1h-2zM1336 316h2v1h-2zM1338 315h2v1h-2zM1340 314h2v1h-2zM1342 313h2v1h-2zM1344 312h3v1h-3zM1347 311h2v1h-2zM1349 310h2v1h-2zM1351 309h2v1h-2zM1353 308h2v1h-2zM1355 307h2v1h-2zM1357 306h2v1h-2zM1359 305h2v1h-2zM1361 304h2v1h-2zM1363 303h2v1h-2zM1365 302h2v1h-2zM1367 301h2v1h-2zM1369 300h2v1h-2zM1371 299h2v1h-2zM1373 298h2v1h-2zM1375 297h3v1h-3zM1378 296h2v1h-2zM1380 295h2v1h-2zM1382 294h2v1h-2zM1384 293h2v1h-2zM1386 292h2v1h-2zM1388 291h2v1h-2zM1390 290h2v1h-2zM1392 289h2v1h-2zM1394 288h2v1h-2zM1396 287h2v1h-2zM1398 286h2v1h-2zM1400 285h2v1h-2zM1402 284h2v1h-2zM1404 283h2v1h-2zM1406 282h3v1h-3zM1409 281h2v1h-2zM1411 280h2v1h-2zM1413 279h2v1h-2zM1415 278h2v1h-2zM1417 277h2v1h-2z" fill="#000"/>
<path d="M1452 430h236v1h-236z" fill="#000"/>
<path d="M1657 483h116v1h-116z" fill="#000"/>
<path d="M1547 392h26v1h-26zM1573 391h50v1h-50zM1623 390h25v1h-25z" fill="#000"/>
<path d="M592 45h5v1h-5zM597 46h4v1h-4zM601 47h4v1h-4zM605 48h5v1h-5zM610 49h4v1h-4zM614 50h4v1h-4zM618 51h5v1h-5zM623 52h4v1h-4zM627 53h4v1h-4zM631 54h4v1h-4zM635 55h5v1h-5zM640 56h4v1h-4zM644 57h4v1h-4zM648 58h5v1h-5zM653 59h4v1h-4zM657 60h4v1h-4zM661 61h4v1h-4zM665 62h5v1h-5zM670 63h4v1h-4zM674 64h4v1h-4zM678 65h5v1h-5zM683 66h4v1h-4zM687 67h4v1h-4zM691 68h5v1h-5zM696 69h4v1h-4zM700 70h4v1h-4zM704 71h4v1h-4zM708 72h5v1h-5zM713 73h4v1h-4zM717 74h4v1h-4zM721 75h5v1h-5zM726 76h4v1h-4zM730 77h4v1h-4zM734 78h4v1h-4zM738 79h5v1h-5zM743 80h4v1h-4zM747 81h4v1h-4zM751 82h5v1h-5zM756 83h4v1h-4zM760 84h4v1h-4zM764 85h5v1h-5zM769 86h4v1h-4zM773 87h4v1h-4zM777 88h4v1h-4zM781 89h5v1h-5zM786 90h4v1h-4zM790 91h4v1h-4zM794 92h5v1h-5zM799 93h4v1h-4zM803 94h4v1h-4zM807 95h4v1h-4zM811 96h5v1h-5zM816 97h4v1h-4zM820 98h4v1h-4zM824 99h5v1h-5zM829 100h4v1h-4zM833 101h4v1h-4zM837 102h4v1h-4zM841 103h5v1h-5zM846 104h4v1h-4zM850 105h4v1h-4zM854 106h5v1h-5zM859 107h4v1h-4zM863 108h4v1h-4zM867 109h5v1h-5zM872 110h4v1h-4zM876 111h4v1h-4zM880 112h4v1h-4zM884 113h5v1h-5zM889 114h4v1h-4zM893 115h4v1h-4zM897 116h5v1h-5zM902 117h4v1h-4zM906 118h4v1h-4zM910 119h4v1h-4zM914 120h5v1h-5zM919 121h4v1h-4zM923 122h4v1h-4zM927 123h5v1h-5zM932 124h4v1h-4zM936 125h4v1h-4zM940 126h5v1h-5zM945 127h4v1h-4zM949 128h4v1h-4zM953 129h4v1h-4zM957 130h5v1h-5zM962 131h4v1h-4zM966 132h4v1h-4zM970 133h5v1h-5zM975 134h4v1h-4zM979 135h4v1h-4zM983 136h4v1h-4zM987 137h5v1h-5zM992 138h4v1h-4zM996 139h4v1h-4zM1000 140h5v1h-5zM1005 141h4v1h-4zM1009 142h4v1h-4zM1013 143h4v1h-4zM1017 144h5v1h-5zM1022 145h4v1h-4zM1026 146h4v1h-4zM1030 147h5v1h-5zM1035 148h4v1h-4zM1039 149h4v1h-4zM1043 150h5v1h-5zM1048 151h4v1h-4zM1052 152h4v1h-4zM1056 153h4v1h-4zM1060 154h5v1h-5zM1065 155h4v1h-4zM1069 156h4v1h-4zM1073 157h5v1h-5zM1078 158h4v1h-4zM1082 159h4v1h-4zM1086 160h4v1h-4zM1090 161h5v1h-5zM1095 162h4v1h-4zM1099 163h4v1h-4zM1103 164h5v1h-5zM1108 165h4v1h-4zM1112 166h4v1h-4zM1116 167h5v1h-5zM1121 168h4v1h-4zM1125 169h4v1h-4zM1129 170h4v1h-4zM1133 171h5v1h-5zM1138 172h4v1h-4zM1142 173h4v1h-4zM1146 174h5v1h-5zM1151 175h4v1h-4zM1155 176h4v1h-4zM1159 177h4v1h-4zM1163 178h5v1h-5zM1168 179h4v1h-4zM1172 180h4v1h-4zM1176 181h5v1h-5zM1181 182h4v1h-4zM1185 183h4v1h-4zM1189 184h4v1h-4zM1193 185h5v1h-5zM1198 186h4v1h-4zM1202 187h4v1h-4zM1206 188h5v1h-5zM1211 189h4v1h-4zM1215 190h4v1h-4zM1219 191h5v1h-5zM1224 192h4v1h-4zM1228 193h4v1h-4zM1232 194h4v1h-4zM1236 195h5v1h-5zM1241 196h4v1h-4zM1245 197h4v1h-4zM1249 198h5v1h-5zM1254 199h4v1h-4zM1258 200h4v1h-4zM1262 201h4v1h-4zM1266 202h5v1h-5zM1271 203h4v1h-4zM1275 204h4v1h-4zM1279 205h5v1h-5zM1284 206h4v1h-4zM1288 207h4v1h-4zM1292 208h5v1h-5zM1297 209h4v1h-4zM1301 210h4v1h-4zM1305 211h4v1h-4zM1309 212h5v1h-5zM1314 213h4v1h-4zM1318 214h4v1h-4zM1322 215h5v1h-5zM1327 216h4v1h-4zM1331 217h4v1h-4zM1335 218h4v1h-4zM1339 219h5v1h-5zM1344 220h4v1h-4zM1348 221h4v1h-4zM1352 222h5v1h-5zM1357 223h4v1h-4zM1361 224h4v1h-4zM1365 225h4v1h-4zM1369 226h5v1h-5zM1374 227h4v1h-4zM1378 228h4v1h-4zM1382 229h5v1h-5zM1387 230h4v1h-4zM1391 231h4v1h-4zM1395 232h5v1h-5zM1400 233h4v1h-4zM1404 234h4v1h-4zM1408 235h4v1h-4zM1412 236h5v1h-5zM1417 237h4v1h-4zM1421 238h4v1h-4zM1425 239h5v1h-5zM1430 240h4v1h-4zM1434 241h4v1h-4zM1438 242h4v1h-4zM1442 243h5v1h-5zM1447 244h4v1h-4zM1451 245h4v1h-4zM1455 246h5v1h-5zM1460 247h4v1h-4zM1464 248h4v1h-4zM1468 249h5v1h-5zM1473 250h4v1h-4zM1477 251h4v1h-4zM1481 252h4v1h-4zM1485 253h5v1h-5zM1490 254h4v1h-4zM1494 255h4v1h-4zM1498 256h5v1h-5zM1503 257h4v1h-4zM1507 258h4v1h-4zM1511 259h4v1h-4zM1515 260h5v1h-5zM1520 261h4v1h-4zM1524 262h4v1h-4zM1528 263h5v1h-5zM1533 264h4v1h-4zM1537 265h4v1h-4zM1541 266h4v1h-4zM1545 267h5v1h-5zM1550 268h4v1h-4zM1554 269h4v1h-4zM1558 270h5v1h-5zM1563 271h4v1h-4zM1567 272h4v1h-4zM1571 273h5v1h-5zM1576 274h4v1h-4zM1580 275h4v1h-4zM1584 276h4v1h-4zM1588 277h5v1h-5zM1593 278h4v1h-4zM1597 279h4v1h-4zM1601 280h5v1h-5zM1606 281h4v1h-4zM1610 282h4v1h-4zM1614 283h4v1h-4zM1618 284h5v1h-5zM1623 285h4v1h-4zM1627 286h4v1h-4zM1631 287h5v1h-5zM1636 288h4v1h-4zM1640 289h3v1h-3z" fill="#ff0000"/>
</g>
<g shape-rendering="crispEdges">
<rect x="2" y="204" width="1" height="31" fill="#000"/>
<rect x="1" y="204" width="4" height="20" fill="#000"/>
<rect x="7" y="221" width="1" height="21" fill="#000"/>
<rect x="6.5" y="224.5" width="2" height="9" fill="#fff" stroke="#000" stroke-width="1"/>
<rect x="12" y="216" width="1" height="18" fill="#000"/>
<rect x="11.5" y="218.5" width="2" height="9" fill="#fff" stroke="#000" stroke-width="1"/>
<rect x="17" y="214" width="1" height="16" fill="#000"/>
<rect x="16" y="214" width="4" height="7" fill="#000"/>
<rect x="22" y="186" width="1" height="44" fill="#000"/>
<rect x="21.5" y="194.5" width="2" height="30" fill="#fff" stroke="#000" stroke-width="1"/>
<rect x="27" y="189" width="1" height="19" fill="#000"/>
<rect x="26" y="194" width="4" height="1" fill="#000"/>
<rect x="32" y="196" width="1" height="34" fill="#000"/>
<rect x="31" y="196" width="4" height="21" fill="#000"/>
<rect x="37" y="192" width="1" height="30" fill="#000"/>
<rect x="36" y="203" width="4" height="9" fill="#000"/>
<rect x="42" y="200" width="1" height="18" fill="#000"/>
<rect x="41.5" y="209.5" width="2" height="4" fill="#fff" stroke="#000" stroke-width="1"/>
<rect x="47" y="189" width="1" height="13" fill="#000"/>
<rect x="46" y="194" width="4" height="3" fill="#000"/>
<rect x="52" y="188" width="1" height="13" fill="#000"/>
<rect x="51.5" y="194.5" width="2" height="3" fill="#fff" stroke="#000" stroke-width="1"/>
<rect x="57" y="179" width="1" height="21" fill="#000"/>
<rect x="56" y="179" width="4" height="5" fill="#000"/>
<rect x="62" y="191" width="1" height="17" fill="#000"/>
<rect x="61" y="191" width="4" height="14" fill="#000"/>
<rect x="67" y="197" width="1" height="17" fill="#000"/>
<rect x="66" y="204" width="4" height="10" fill="#000"/>
<rect x="72" y="195" width="1" height="26" fill="#000"/>
<rect x="71.5" y="197.5" width="2" height="8" fill="#fff" stroke="#000" stroke-width="1"/>
<rect x="77" y="179" width="1" height="24" fill="#000"/>
<rect x="76.5" y="195.5" width="2" height="2" fill="#fff" stroke="#000" stroke-width="1"/>
<rect x="82" y="201" width="1" height="39" fill="#000"/>
<rect x="81" y="201" width="4" height="28" fill="#000"/>
<rect x="87" y="221" width="1" height="33" fill="#000"/>
<rect x="86" y="226" width="4" height="14" fill="#000"/>
<rect x="92" y="221" width="1" height="22" fill="#000"/>
<rect x="91.5" y="222.5" width="2" height="14" fill="#fff" stroke="#000" stroke-width="1"/>
<rect x="97" y="224" width="1" height="21" fill="#000"/>
<rect x="96" y="224" width="4" height="20" fill="#000"/>
<rect x="102" y="221" width="1" height="23" fill="#000"/>
<rect x="101.5" y="237.5" width="2" height="6" fill="#fff" stroke="#000" stroke-width="1"/>
<rect x="107" y="239" width="1" height="36" fill="#000"/>
<rect x="106" y="249" width="4" height="22" fill="#000"/>
<rect x="112" y="247" width="1" height="36" fill="#000"/>
<rect x="111.5" y="254.5" width="2" height="12" fill="#fff" stroke="#000" stroke-width="1"/>
<rect x="117" y="254" width="1" height="30" fill="#000"/>
<rect x="116" y="258" width="4" height="22" fill="#000"/>
<rect x="122" y="264" width="1" height="26" fill="#000"/>
<rect x="121" y="273" width="4" height="15" fill="#000"/>
<rect x="127" y="278" width="1" height="18" fill="#000"/>
<rect x="126" y="281" width="4" height="4" fill="#000"/>
<rect x="132" y="282" width="1" height="14" fill="#000"/>
<rect x="131" y="285" width="4" height="6" fill="#000"/>
<rect x="137" y="282" width="1" height="19" fill="#000"/>
<rect x="136.5" y="287.5" width="2" height="4" fill="#fff" stroke="#000" stroke-width="1"/>
<rect x="142" y="247" width="1" height="49" fill="#000"/>
<rect x="141.5" y="247.5" width="2" height="45" fill="#fff" stroke="#000" stroke-width="1"/>
<rect x="147" y="208" width="1" height="35" fill="#000"/>
<rect x="146.5" y="224.5" width="2" height="16" fill="#fff" stroke="#000" stroke-width="1"/>
<rect x="152" y="199" width="1" height="25" fill="#000"/>
<rect x="151.5" y="205.5" width="2" height="18" fill="#fff" stroke="#000" stroke-width="1"/>
<rect x="157" y="196" width="1" height="19" fill="#000"/>
<rect x="156" y="206" width="4" height="5" fill="#000"/>
<rect x="162" y="212" width="1" height="24" fill="#000"/>
<rect x="161" y="217" width="4" height="11" fill="#000"/>
<rect x="167" y="209" width="1" height="25" fill="#000"/>
<rect x="166.5" y="216.5" width="2" height="12" fill="#fff" stroke="#000" stroke-width="1"/>
<rect x="172" y="205" width="1" height="18" fill="#000"/>
<rect x="171.5" y="212.5" width="2" height="2" fill="#fff" stroke="#000" stroke-width="1"/>
<rect x="177" y="193" width="1" height="35" fill="#000"/>
<rect x="176.5" y="195.5" width="2" height="13" fill="#fff" stroke="#000" stroke-width="1"/>
<rect x="182" y="180" width="1" height="29" fill="#000"/>
<rect x="181.5" y="189.5" width="2" height="4" fill="#fff" stroke="#000" stroke-width="1"/>
<rect x="187" y="183" width="1" height="30" fill="#000"/>
<rect x="186" y="198" width="4" height="15" fill="#000"/>
<rect x="192" y="184" width="1" height="38" fill="#000"/>
<rect x="191.5" y="184.5" width="2" height="33" fill="#fff" stroke="#000" stroke-width="1"/>
<rect x="197" y="174" width="1" height="20" fill="#000"/>
<rect x="196.5" y="182.5" width="2" height="2" fill="#fff" stroke="#000" stroke-width="1"/>
<rect x="202" y="165" width="1" height="28" fill="#000"/>
<rect x="201" y="182" width="4" height="1" fill="#000"/>
<rect x="207" y="169" width="1" height="33" fill="#000"/>
<rect x="206.5" y="169.5" width="2" height="15" fill="#fff" stroke="#000" stroke-width="1"/>
<rect x="212" y="138" width="1" height="31" fill="#000"/>
<rect x="211.5" y="157.5" width="2" height="7" fill="#fff" stroke="#000" stroke-width="1"/>
<rect x="217" y="140" width="1" height="19" fill="#000"/>
<rect x="216" y="154" width="4" height="4" fill="#000"/>
<rect x="222" y="157" width="1" height="23" fill="#000"/>
<rect x="221.5" y="161.5" width="2" height="7" fill="#fff" stroke="#000" stroke-width="1"/>
<rect x="227" y="149" width="1" height="21" fill="#000"/>
<rect x="226.5" y="155.5" width="2" height="10" fill="#fff" stroke="#000" stroke-width="1"/>
<rect x="232" y="147" width="1" height="24" fill="#000"/>
<rect x="231.5" y="148.5" width="2" height="11" fill="#fff" stroke="#000" stroke-width="1"/>
<rect x="237" y="132" width="1" height="86" fill="#000"/>
<rect x="236.5" y="148.5" width="2" height="26" fill="#fff" stroke="#000" stroke-width="1"/>
<rect x="242" y="148" width="1" height="91" fill="#000"/>
<rect x="241" y="161" width="4" height="63" fill="#000"/>
<rect x="247" y="189" width="1" height="30" fill="#000"/>
<rect x="246.5" y="190.5" width="2" height="25" fill="#fff" stroke="#000" stroke-width="1"/>
<rect x="252" y="186" width="1" height="10" fill="#000"/>
<rect x="251" y="188" width="4" height="4" fill="#000"/>
<rect x="257" y="183" width="1" height="25" fill="#000"/>
<rect x="256.5" y="183.5" width="2" height="24" fill="#fff" stroke="#000" stroke-width="1"/>
<rect x="262" y="191" width="1" height="32" fill="#000"/>
<rect x="261.5" y="201.5" width="2" height="8" fill="#fff" stroke="#000" stroke-width="1"/>
<rect x="267" y="188" width="1" height="17" fill="#000"/>
<rect x="266" y="197" width="4" height="5" fill="#000"/>
<rect x="272" y="193" width="1" height="24" fill="#000"/>
<rect x="271" y="201" width="4" height="6" fill="#000"/>
<rect x="277" y="203" width="1" height="27" fill="#000"/>
<rect x="276.5" y="209.5" width="2" height="3" fill="#fff" stroke="#000" stroke-width="1"/>
<rect x="282" y="199" width="1" height="16" fill="#000"/>
<rect x="281" y="209" width="4" height="1" fill="#000"/>
<rect x="287" y="188" width="1" height="17" fill="#000"/>
<rect x="286.5" y="203.5" width="2" height="2" fill="#fff" stroke="#000" stroke-width="1"/>
<rect x="292" y="197" width="1" height="25" fill="#000"/>
<rect x="291" y="199" width="4" height="6" fill="#000"/>
<rect x="297" y="200" width="1" height="11" fill="#000"/>
<rect x="296" y="203" width="4" height="8" fill="#000"/>
<rect x="302" y="188" width="1" height="9" fill="#000"/>
<rect x="301" y="191" width="4" height="6" fill="#000"/>
<rect x="307" y="184" width="1" height="19" fill="#000"/>
<rect x="306.5" y="191.5" width="2" height="8" fill="#fff" stroke="#000" stroke-width="1"/>
<rect x="312" y="177" width="1" height="19" fill="#000"/>
<rect x="311.5" y="185.5" width="2" height="4" fill="#fff" stroke="#000" stroke-width="1"/>
<rect x="317" y="179" width="1" height="9" fill="#000"/>
<rect x="316" y="184" width="4" height="1" fill="#000"/>
<rect x="322" y="165" width="1" height="22" fill="#000"/>
<rect x="321" y="185" width="4" height="1" fill="#000"/>
<rect x="327" y="165" width="1" height="23" fill="#000"/>
<rect x="326.5" y="165.5" width="2" height="18" fill="#fff" stroke="#000" stroke-width="1"/>
<rect x="332" y="170" width="1" height="8" fill="#000"/>
<rect x="331" y="171" width="4" height="5" fill="#000"/>
<rect x="337" y="167" width="1" height="13" fill="#000"/>
<rect x="336.5" y="170.5" width="2" height="9" fill="#fff" stroke="#000" stroke-width="1"/>
<rect x="342" y="136" width="1" height="35" fill="#000"/>
<rect x="341.5" y="136.5" width="2" height="34" fill="#fff" stroke="#000" stroke-width="1"/>
<rect x="347" y="131" width="1" height="10" fill="#000"/>
<rect x="346.5" y="132.5" width="2" height="8" fill="#fff" stroke="#000" stroke-width="1"/>
<rect x="352" y="127" width="1" height="31" fill="#000"/>
<rect x="351" y="135" width="4" height="18" fill="#000"/>
<rect x="357" y="159" width="1" height="44" fill="#000"/>
<rect x="356" y="161" width="4" height="29" fill="#000"/>
<rect x="362" y="178" width="1" height="18" fill="#000"/>
<rect x="361" y="186" width="4" height="4" fill="#000"/>
<rect x="367" y="165" width="1" height="42" fill="#000"/>
<rect x="366.5" y="165.5" width="2" height="38" fill="#fff" stroke="#000" stroke-width="1"/>
<rect x="372" y="148" width="1" height="35" fill="#000"/>
<rect x="371" y="172" width="4" height="11" fill="#000"/>
<rect x="377" y="170" width="1" height="22" fill="#000"/>
<rect x="376" y="182" width="4" height="6" fill="#000"/>
<rect x="382" y="163" width="1" height="32" fill="#000"/>
<rect x="381.5" y="163.5" width="2" height="19" fill="#fff" stroke="#000" stroke-width="1"/>
<rect x="387" y="152" width="1" height="18" fill="#000"/>
<rect x="386.5" y="152.5" width="2" height="12" fill="#fff" stroke="#000" stroke-width="1"/>
<rect x="392" y="148" width="1" height="26" fill="#000"/>
<rect x="391" y="148" width="4" height="18" fill="#000"/>
<rect x="397" y="155" width="1" height="23" fill="#000"/>
<rect x="396" y="155" width="4" height="23" fill="#000"/>
<rect x="402" y="152" width="1" height="24" fill="#000"/>
<rect x="401.5" y="152.5" width="2" height="23" fill="#fff" stroke="#000" stroke-width="1"/>
<rect x="407" y="149" width="1" height="15" fill="#000"/>
<rect x="406.5" y="158.5" width="2" height="4" fill="#fff" stroke="#000" stroke-width="1"/>
<rect x="412" y="153" width="1" height="18" fill="#000"/>
<rect x="411" y="159" width="4" height="7" fill="#000"/>
<rect x="417" y="163" width="1" height="26" fill="#000"/>
<rect x="416" y="165" width="4" height="7" fill="#000"/>
<rect x="422" y="148" width="1" height="20" fill="#000"/>
<rect x="421.5" y="150.5" width="2" height="14" fill="#fff" stroke="#000" stroke-width="1"/>
<rect x="427" y="150" width="1" height="32" fill="#000"/>
<rect x="426" y="153" width="4" height="13" fill="#000"/>
<rect x="432" y="156" width="1" height="20" fill="#000"/>
<rect x="431" y="162" width="4" height="3" fill="#000"/>
<rect x="437" y="155" width="1" height="27" fill="#000"/>
<rect x="436" y="159" width="4" height="15" fill="#000"/>
<rect x="442" y="150" width="1" height="30" fill="#000"/>
<rect x="441.5" y="159.5" width="2" height="13" fill="#fff" stroke="#000" stroke-width="1"/>
<rect x="447" y="153" width="1" height="29" fill="#000"/>
<rect x="446" y="154" width="4" height="16" fill="#000"/>
<rect x="452" y="114" width="1" height="53" fill="#000"/>
<rect x="451.5" y="124.5" width="2" height="42" fill="#fff" stroke="#000" stroke-width="1"/>
<rect x="457" y="120" width="1" height="24" fill="#000"/>
<rect x="456" y="133" width="4" height="8" fill="#000"/>
<rect x="462" y="122" width="1" height="30" fill="#000"/>
<rect x="461" y="125" width="4" height="27" fill="#000"/>
<rect x="467" y="141" width="1" height="22" fill="#000"/>
<rect x="466.5" y="141.5" width="2" height="10" fill="#fff" stroke="#000" stroke-width="1"/>
<rect x="472" y="141" width="1" height="55" fill="#000"/>
<rect x="471" y="142" width="4" height="53" fill="#000"/>
<rect x="477" y="180" width="1" height="17" fill="#000"/>
<rect x="476.5" y="181.5" width="2" height="6" fill="#fff" stroke="#000" stroke-width="1"/>
<rect x="482" y="172" width="1" height="31" fill="#000"/>
<rect x="481.5" y="173.5" width="2" height="8" fill="#fff" stroke="#000" stroke-width="1"/>
<rect x="487" y="134" width="1" height="47" fill="#000"/>
<rect x="486.5" y="150.5" width="2" height="30" fill="#fff" stroke="#000" stroke-width="1"/>
<rect x="492" y="141" width="1" height="25" fill="#000"/>
<rect x="491" y="149" width="4" height="15" fill="#000"/>
<rect x="497" y="158" width="1" height="23" fill="#000"/>
<rect x="496" y="161" width="4" height="12" fill="#000"/>
<rect x="502" y="154" width="1" height="20" fill="#000"/>
<rect x="501.5" y="154.5" width="2" height="19" fill="#fff" stroke="#000" stroke-width="1"/>
<rect x="507" y="155" width="1" height="14" fill="#000"/>
<rect x="506" y="161" width="4" height="1" fill="#000"/>
<rect x="512" y="147" width="1" height="17" fill="#000"/>
<rect x="511" y="153" width="4" height="7" fill="#000"/>
<rect x="517" y="158" width="1" height="26" fill="#000"/>
<rect x="516.5" y="159.5" width="2" height="14" fill="#fff" stroke="#000" stroke-width="1"/>
<rect x="522" y="133" width="1" height="25" fill="#000"/>
<rect x="521.5" y="133.5" width="2" height="15" fill="#fff" stroke="#000" stroke-width="1"/>
<rect x="527" y="124" width="1" height="19" fill="#000"/>
<rect x="526" y="130" width="4" height="13" fill="#000"/>
<rect x="532" y="135" width="1" height="18" fill="#000"/>
<rect x="531" y="143" width="4" height="10" fill="#000"/>
<rect x="537" y="147" width="1" height="20" fill="#000"/>
<rect x="536" y="148" width="4" height="11" fill="#000"/>
<rect x="542" y="158" width="1" height="14" fill="#000"/>
<rect x="541" y="159" width="4" height="13" fill="#000"/>
<rect x="547" y="160" width="1" height="13" fill="#000"/>
<rect x="546.5" y="168.5" width="2" height="4" fill="#fff" stroke="#000" stroke-width="1"/>
<rect x="552" y="170" width="1" height="8" fill="#000"/>
<rect x="551" y="172" width="4" height="6" fill="#000"/>
<rect x="557" y="143" width="1" height="32" fill="#000"/>
<rect x="556.5" y="146.5" width="2" height="20" fill="#fff" stroke="#000" stroke-width="1"/>
<rect x="562" y="141" width="1" height="19" fill="#000"/>
<rect x="561" y="147" width="4" height="8" fill="#000"/>
<rect x="567" y="155" width="1" height="30" fill="#000"/>
<rect x="566" y="161" width="4" height="24" fill="#000"/>
<rect x="572" y="188" width="1" height="28" fill="#000"/>
<rect x="571" y="198" width="4" height="6" fill="#000"/>
<rect x="577" y="200" width="1" height="12" fill="#000"/>
<rect x="576.5" y="207.5" width="2" height="2" fill="#fff" stroke="#000" stroke-width="1"/>
<rect x="582" y="177" width="1" height="37" fill="#000"/>
<rect x="581.5" y="196.5" width="2" height="16" fill="#fff" stroke="#000" stroke-width="1"/>
<rect x="587" y="169" width="1" height="37" fill="#000"/>
<rect x="586.5" y="185.5" width="2" height="17" fill="#fff" stroke="#000" stroke-width="1"/>
<rect x="592" y="96" width="1" height="73" fill="#000"/>
<rect x="591.5" y="114.5" width="2" height="51" fill="#fff" stroke="#000" stroke-width="1"/>
<rect x="597" y="47" width="1" height="63" fill="#000"/>
<rect x="596.5" y="91.5" width="2" height="18" fill="#fff" stroke="#000" stroke-width="1"/>
<rect x="602" y="65" width="1" height="36" fill="#000"/>
<rect x="601" y="77" width="4" height="7" fill="#000"/>
<rect x="607" y="60" width="1" height="22" fill="#000"/>
<rect x="606.5" y="72.5" width="2" height="7" fill="#fff" stroke="#000" stroke-width="1"/>
<rect x="612" y="82" width="1" height="12" fill="#000"/>
<rect x="611" y="83" width="4" height="9" fill="#000"/>
<rect x="617" y="96" width="1" height="32" fill="#000"/>
<rect x="616" y="96" width="4" height="18" fill="#000"/>
<rect x="622" y="107" width="1" height="35" fill="#000"/>
<rect x="621" y="108" width="4" height="34" fill="#000"/>
<rect x="627" y="112" width="1" height="55" fill="#000"/>
<rect x="626.5" y="114.5" width="2" height="43" fill="#fff" stroke="#000" stroke-width="1"/>
<rect x="632" y="113" width="1" height="39" fill="#000"/>
<rect x="631" y="119" width="4" height="30" fill="#000"/>
<rect x="637" y="135" width="1" height="29" fill="#000"/>
<rect x="636" y="142" width="4" height="6" fill="#000"/>
<rect x="642" y="131" width="1" height="21" fill="#000"/>
<rect x="641" y="141" width="4" height="1" fill="#000"/>
<rect x="647" y="141" width="1" height="18" fill="#000"/>
<rect x="646" y="144" width="4" height="9" fill="#000"/>
<rect x="652" y="108" width="1" height="42" fill="#000"/>
<rect x="651.5" y="110.5" width="2" height="39" fill="#fff" stroke="#000" stroke-width="1"/>
<rect x="657" y="103" width="1" height="19" fill="#000"/>
<rect x="656" y="103" width="4" height="8" fill="#000"/>
<rect x="662" y="108" width="1" height="37" fill="#000"/>
<rect x="661.5" y="119.5" width="2" height="20" fill="#fff" stroke="#000" stroke-width="1"/>
<rect x="667" y="108" width="1" height="14" fill="#000"/>
<rect x="666" y="114" width="4" height="1" fill="#000"/>
<rect x="672" y="112" width="1" height="22" fill="#000"/>
<rect x="671" y="116" width="4" height="18" fill="#000"/>
<rect x="677" y="124" width="1" height="12" fill="#000"/>
<rect x="676" y="126" width="4" height="5" fill="#000"/>
<rect x="682" y="132" width="1" height="21" fill="#000"/>
<rect x="681" y="137" width="4" height="6" fill="#000"/>
<rect x="687" y="137" width="1" height="18" fill="#000"/>
<rect x="686" y="137" width="4" height="15" fill="#000"/>
<rect x="692" y="144" width="1" height="20" fill="#000"/>
<rect x="691" y="146" width="4" height="7" fill="#000"/>
<rect x="697" y="139" width="1" height="18" fill="#000"/>
<rect x="696.5" y="144.5" width="2" height="3" fill="#fff" stroke="#000" stroke-width="1"/>
<rect x="702" y="142" width="1" height="27" fill="#000"/>
<rect x="701" y="142" width="4" height="19" fill="#000"/>
<rect x="707" y="155" width="1" height="14" fill="#000"/>
<rect x="706.5" y="158.5" width="2" height="2" fill="#fff" stroke="#000" stroke-width="1"/>
<rect x="712" y="141" width="1" height="21" fill="#000"/>
<rect x="711.5" y="154.5" width="2" height="7" fill="#fff" stroke="#000" stroke-width="1"/>
<rect x="717" y="151" width="1" height="14" fill="#000"/>
<rect x="716" y="158" width="4" height="7" fill="#000"/>
<rect x="722" y="154" width="1" height="26" fill="#000"/>
<rect x="721" y="165" width="4" height="15" fill="#000"/>
<rect x="727" y="167" width="1" height="18" fill="#000"/>
<rect x="726.5" y="171.5" width="2" height="9" fill="#fff" stroke="#000" stroke-width="1"/>
<rect x="732" y="173" width="1" height="30" fill="#000"/>
<rect x="731" y="175" width="4" height="8" fill="#000"/>
<rect x="737" y="184" width="1" height="17" fill="#000"/>
<rect x="736" y="187" width="4" height="8" fill="#000"/>
<rect x="742" y="189" width="1" height="12" fill="#000"/>
<rect x="741.5" y="189.5" width="2" height="11" fill="#fff" stroke="#000" stroke-width="1"/>
<rect x="747" y="194" width="1" height="21" fill="#000"/>
<rect x="746" y="194" width="4" height="17" fill="#000"/>
<rect x="752" y="200" width="1" height="25" fill="#000"/>
<rect x="751.5" y="200.5" width="2" height="17" fill="#fff" stroke="#000" stroke-width="1"/>
<rect x="757" y="191" width="1" height="20" fill="#000"/>
<rect x="756.5" y="202.5" width="2" height="2" fill="#fff" stroke="#000" stroke-width="1"/>
<rect x="762" y="200" width="1" height="13" fill="#000"/>
<rect x="761.5" y="204.5" width="2" height="3" fill="#fff" stroke="#000" stroke-width="1"/>
<rect x="767" y="204" width="1" height="11" fill="#000"/>
<rect x="766" y="206" width="4" height="2" fill="#000"/>
<rect x="772" y="197" width="1" height="22" fill="#000"/>
<rect x="771.5" y="197.5" width="2" height="8" fill="#fff" stroke="#000" stroke-width="1"/>
<rect x="777" y="204" width="1" height="10" fill="#000"/>
<rect x="776" y="211" width="4" height="1" fill="#000"/>
<rect x="782" y="179" width="1" height="33" fill="#000"/>
<rect x="781.5" y="179.5" width="2" height="32" fill="#fff" stroke="#000" stroke-width="1"/>
<rect x="787" y="165" width="1" height="21" fill="#000"/>
<rect x="786.5" y="166.5" width="2" height="16" fill="#fff" stroke="#000" stroke-width="1"/>
<rect x="792" y="152" width="1" height="34" fill="#000"/>
<rect x="791" y="163" width="4" height="8" fill="#000"/>
<rect x="797" y="153" width="1" height="21" fill="#000"/>
<rect x="796.5" y="159.5" width="2" height="9" fill="#fff" stroke="#000" stroke-width="1"/>
<rect x="802" y="150" width="1" height="27" fill="#000"/>
<rect x="801" y="159" width="4" height="10" fill="#000"/>
<rect x="807" y="171" width="1" height="19" fill="#000"/>
<rect x="806" y="176" width="4" height="9" fill="#000"/>
<rect x="812" y="179" width="1" height="28" fill="#000"/>
<rect x="811" y="182" width="4" height="17" fill="#000"/>
<rect x="817" y="170" width="1" height="29" fill="#000"/>
<rect x="816.5" y="182.5" width="2" height="16" fill="#fff" stroke="#000" stroke-width="1"/>
<rect x="822" y="167" width="1" height="30" fill="#000"/>
<rect x="821" y="169" width="4" height="28" fill="#000"/>
<rect x="827" y="173" width="1" height="31" fill="#000"/>
<rect x="826.5" y="180.5" width="2" height="14" fill="#fff" stroke="#000" stroke-width="1"/>
<rect x="832" y="180" width="1" height="24" fill="#000"/>
<rect x="831.5" y="180.5" width="2" height="2" fill="#fff" stroke="#000" stroke-width="1"/>
<rect x="837" y="143" width="1" height="41" fill="#000"/>
<rect x="836.5" y="143.5" width="2" height="36" fill="#fff" stroke="#000" stroke-width="1"/>
<rect x="842" y="117" width="1" height="22" fill="#000"/>
<rect x="841.5" y="134.5" width="2" height="4" fill="#fff" stroke="#000" stroke-width="1"/>
<rect x="847" y="116" width="1" height="17" fill="#000"/>
<rect x="846.5" y="124.5" width="2" height="7" fill="#fff" stroke="#000" stroke-width="1"/>
<rect x="852" y="119" width="1" height="47" fill="#000"/>
<rect x="851" y="119" width="4" height="24" fill="#000"/>
<rect x="857" y="126" width="1" height="20" fill="#000"/>
<rect x="856.5" y="126.5" width="2" height="14" fill="#fff" stroke="#000" stroke-width="1"/>
<rect x="867" y="118" width="1" height="39" fill="#000"/>
<rect x="866" y="120" width="4" height="37" fill="#000"/>
<rect x="872" y="143" width="1" height="18" fill="#000"/>
<rect x="871.5" y="145.5" width="2" height="5" fill="#fff" stroke="#000" stroke-width="1"/>
<rect x="877" y="139" width="1" height="18" fill="#000"/>
<rect x="876" y="148" width="4" height="9" fill="#000"/>
<rect x="882" y="151" width="1" height="35" fill="#000"/>
<rect x="881.5" y="159.5" width="2" height="22" fill="#fff" stroke="#000" stroke-width="1"/>
<rect x="887" y="153" width="1" height="16" fill="#000"/>
<rect x="886" y="160" width="4" height="8" fill="#000"/>
<rect x="892" y="161" width="1" height="19" fill="#000"/>
<rect x="891" y="167" width="4" height="1" fill="#000"/>
<rect x="897" y="161" width="1" height="20" fill="#000"/>
<rect x="896" y="161" width="4" height="14" fill="#000"/>
<rect x="902" y="168" width="1" height="32" fill="#000"/>
<rect x="901" y="180" width="4" height="20" fill="#000"/>
<rect x="907" y="188" width="1" height="30" fill="#000"/>
<rect x="906" y="189" width="4" height="29" fill="#000"/>
<rect x="912" y="190" width="1" height="30" fill="#000"/>
<rect x="911" y="204" width="4" height="4" fill="#000"/>
<rect x="917" y="182" width="1" height="40" fill="#000"/>
<rect x="916" y="189" width="4" height="18" fill="#000"/>
<rect x="922" y="198" width="1" height="19" fill="#000"/>
<rect x="921.5" y="198.5" width="2" height="2" fill="#fff" stroke="#000" stroke-width="1"/>
<rect x="927" y="188" width="1" height="19" fill="#000"/>
<rect x="926.5" y="193.5" width="2" height="4" fill="#fff" stroke="#000" stroke-width="1"/>
<rect x="932" y="191" width="1" height="17" fill="#000"/>
<rect x="931" y="196" width="4" height="1" fill="#000"/>
<rect x="937" y="195" width="1" height="17" fill="#000"/>
<rect x="936" y="197" width="4" height="11" fill="#000"/>
<rect x="942" y="193" width="1" height="21" fill="#000"/>
<rect x="941.5" y="203.5" width="2" height="3" fill="#fff" stroke="#000" stroke-width="1"/>
<rect x="947" y="200" width="1" height="16" fill="#000"/>
<rect x="946" y="201" width="4" height="4" fill="#000"/>
<rect x="952" y="204" width="1" height="11" fill="#000"/>
<rect x="951.5" y="210.5" width="2" height="2" fill="#fff" stroke="#000" stroke-width="1"/>
<rect x="957" y="170" width="1" height="43" fill="#000"/>
<rect x="956.5" y="174.5" width="2" height="35" fill="#fff" stroke="#000" stroke-width="1"/>
<rect x="962" y="168" width="1" height="32" fill="#000"/>
<rect x="961" y="168" width="4" height="32" fill="#000"/>
<rect x="967" y="184" width="1" height="14" fill="#000"/>
<rect x="966.5" y="194.5" width="2" height="2" fill="#fff" stroke="#000" stroke-width="1"/>
<rect x="972" y="193" width="1" height="17" fill="#000"/>
<rect x="971.5" y="193.5" width="2" height="3" fill="#fff" stroke="#000" stroke-width="1"/>
<rect x="977" y="185" width="1" height="20" fill="#000"/>
<rect x="976.5" y="185.5" width="2" height="19" fill="#fff" stroke="#000" stroke-width="1"/>
<rect x="982" y="185" width="1" height="23" fill="#000"/>
<rect x="981" y="191" width="4" height="13" fill="#000"/>
<rect x="987" y="186" width="1" height="26" fill="#000"/>
<rect x="986" y="206" width="4" height="5" fill="#000"/>
<rect x="992" y="198" width="1" height="28" fill="#000"/>
<rect x="991" y="208" width="4" height="11" fill="#000"/>
<rect x="997" y="220" width="1" height="47" fill="#000"/>
<rect x="996" y="220" width="4" height="40" fill="#000"/>
<rect x="1002" y="246" width="1" height="32" fill="#000"/>
<rect x="1001.5" y="248.5" width="2" height="14" fill="#fff" stroke="#000" stroke-width="1"/>
<rect x="1007" y="188" width="1" height="59" fill="#000"/>
<rect x="1006.5" y="192.5" width="2" height="51" fill="#fff" stroke="#000" stroke-width="1"/>
<rect x="1012" y="188" width="1" height="28" fill="#000"/>
<rect x="1011" y="195" width="4" height="18" fill="#000"/>
<rect x="1017" y="202" width="1" height="24" fill="#000"/>
<rect x="1016" y="211" width="4" height="6" fill="#000"/>
<rect x="1022" y="207" width="1" height="26" fill="#000"/>
<rect x="1021" y="218" width="4" height="9" fill="#000"/>
<rect x="1027" y="207" width="1" height="80" fill="#000"/>
<rect x="1026" y="210" width="4" height="50" fill="#000"/>
<rect x="1032" y="235" width="1" height="47" fill="#000"/>
<rect x="1031" y="258" width="4" height="5" fill="#000"/>
<rect x="1037" y="244" width="1" height="17" fill="#000"/>
<rect x="1036" y="251" width="4" height="2" fill="#000"/>
<rect x="1042" y="256" width="1" height="9" fill="#000"/>
<rect x="1041.5" y="259.5" width="2" height="2" fill="#fff" stroke="#000" stroke-width="1"/>
<rect x="1047" y="236" width="1" height="41" fill="#000"/>
<rect x="1046" y="256" width="4" height="21" fill="#000"/>
<rect x="1052" y="265" width="1" height="21" fill="#000"/>
<rect x="1051.5" y="266.5" width="2" height="17" fill="#fff" stroke="#000" stroke-width="1"/>
<rect x="1057" y="252" width="1" height="22" fill="#000"/>
<rect x="1056" y="258" width="4" height="1" fill="#000"/>
<rect x="1062" y="256" width="1" height="10" fill="#000"/>
<rect x="1061" y="263" width="4" height="3" fill="#000"/>
<rect x="1067" y="263" width="1" height="16" fill="#000"/>
<rect x="1066" y="267" width="4" height="5" fill="#000"/>
<rect x="1072" y="266" width="1" height="18" fill="#000"/>
<rect x="1071.5" y="274.5" width="2" height="3" fill="#fff" stroke="#000" stroke-width="1"/>
<rect x="1077" y="274" width="1" height="14" fill="#000"/>
<rect x="1076" y="279" width="4" height="3" fill="#000"/>
<rect x="1082" y="291" width="1" height="27" fill="#000"/>
<rect x="1081" y="292" width="4" height="18" fill="#000"/>
<rect x="1086" y="299" width="1" height="16" fill="#000"/>
<rect x="1085.5" y="303.5" width="2" height="2" fill="#fff" stroke="#000" stroke-width="1"/>
<rect x="1092" y="306" width="1" height="21" fill="#000"/>
<rect x="1091" y="307" width="4" height="4" fill="#000"/>
<rect x="1097" y="306" width="1" height="18" fill="#000"/>
<rect x="1096.5" y="307.5" width="2" height="4" fill="#fff" stroke="#000" stroke-width="1"/>
<rect x="1102" y="255" width="1" height="49" fill="#000"/>
<rect x="1101.5" y="287.5" width="2" height="16" fill="#fff" stroke="#000" stroke-width="1"/>
<rect x="1107" y="286" width="1" height="54" fill="#000"/>
<rect x="1106" y="314" width="4" height="5" fill="#000"/>
<rect x="1112" y="276" width="1" height="46" fill="#000"/>
<rect x="1111.5" y="283.5" width="2" height="35" fill="#fff" stroke="#000" stroke-width="1"/>
<rect x="1117" y="297" width="1" height="23" fill="#000"/>
<rect x="1116" y="305" width="4" height="15" fill="#000"/>
<rect x="1122" y="256" width="1" height="54" fill="#000"/>
<rect x="1121" y="256" width="4" height="54" fill="#000"/>
<rect x="1127" y="266" width="1" height="39" fill="#000"/>
<rect x="1126.5" y="273.5" width="2" height="25" fill="#fff" stroke="#000" stroke-width="1"/>
<rect x="1132" y="248" width="1" height="20" fill="#000"/>
<rect x="1131.5" y="253.5" width="2" height="4" fill="#fff" stroke="#000" stroke-width="1"/>
<rect x="1137" y="235" width="1" height="19" fill="#000"/>
<rect x="1136.5" y="239.5" width="2" height="14" fill="#fff" stroke="#000" stroke-width="1"/>
<rect x="1142" y="226" width="1" height="32" fill="#000"/>
<rect x="1141.5" y="226.5" width="2" height="13" fill="#fff" stroke="#000" stroke-width="1"/>
<rect x="1147" y="223" width="1" height="14" fill="#000"/>
<rect x="1146" y="225" width="4" height="5" fill="#000"/>
<rect x="1152" y="230" width="1" height="28" fill="#000"/>
<rect x="1151.5" y="231.5" width="2" height="5" fill="#fff" stroke="#000" stroke-width="1"/>
<rect x="1157" y="220" width="1" height="15" fill="#000"/>
<rect x="1156.5" y="223.5" width="2" height="2" fill="#fff" stroke="#000" stroke-width="1"/>
<rect x="1162" y="208" width="1" height="24" fill="#000"/>
<rect x="1161.5" y="209.5" width="2" height="20" fill="#fff" stroke="#000" stroke-width="1"/>
<rect x="1167" y="206" width="1" height="16" fill="#000"/>
<rect x="1166" y="206" width="4" height="9" fill="#000"/>
<rect x="1171" y="210" width="1" height="9" fill="#000"/>
<rect x="1170" y="216" width="4" height="3" fill="#000"/>
<rect x="1177" y="209" width="1" height="14" fill="#000"/>
<rect x="1176.5" y="212.5" width="2" height="5" fill="#fff" stroke="#000" stroke-width="1"/>
<rect x="1182" y="195" width="1" height="14" fill="#000"/>
<rect x="1181.5" y="197.5" width="2" height="6" fill="#fff" stroke="#000" stroke-width="1"/>
<rect x="1187" y="184" width="1" height="31" fill="#000"/>
<rect x="1186" y="188" width="4" height="27" fill="#000"/>
<rect x="1192" y="192" width="1" height="17" fill="#000"/>
<rect x="1191.5" y="195.5" width="2" height="13" fill="#fff" stroke="#000" stroke-width="1"/>
<rect x="1197" y="196" width="1" height="30" fill="#000"/>
<rect x="1196" y="196" width="4" height="24" fill="#000"/>
<rect x="1202" y="217" width="1" height="47" fill="#000"/>
<rect x="1201" y="218" width="4" height="40" fill="#000"/>
<rect x="1207" y="238" width="1" height="35" fill="#000"/>
<rect x="1206.5" y="244.5" width="2" height="13" fill="#fff" stroke="#000" stroke-width="1"/>
<rect x="1212" y="238" width="1" height="26" fill="#000"/>
<rect x="1211" y="243" width="4" height="17" fill="#000"/>
<rect x="1217" y="243" width="1" height="28" fill="#000"/>
<rect x="1216.5" y="244.5" width="2" height="15" fill="#fff" stroke="#000" stroke-width="1"/>
<rect x="1222" y="233" width="1" height="28" fill="#000"/>
<rect x="1221" y="246" width="4" height="1" fill="#000"/>
<rect x="1227" y="238" width="1" height="33" fill="#000"/>
<rect x="1226" y="252" width="4" height="18" fill="#000"/>
<rect x="1232" y="266" width="1" height="20" fill="#000"/>
<rect x="1231" y="270" width="4" height="10" fill="#000"/>
<rect x="1237" y="250" width="1" height="24" fill="#000"/>
<rect x="1236.5" y="265.5" width="2" height="4" fill="#fff" stroke="#000" stroke-width="1"/>
<rect x="1242" y="272" width="1" height="13" fill="#000"/>
<rect x="1241" y="275" width="4" height="4" fill="#000"/>
<rect x="1247" y="276" width="1" height="13" fill="#000"/>
<rect x="1246" y="276" width="4" height="7" fill="#000"/>
<rect x="1252" y="283" width="1" height="12" fill="#000"/>
<rect x="1251" y="287" width="4" height="5" fill="#000"/>
<rect x="1257" y="285" width="1" height="26" fill="#000"/>
<rect x="1256" y="293" width="4" height="15" fill="#000"/>
<rect x="1262" y="298" width="1" height="42" fill="#000"/>
<rect x="1261" y="309" width="4" height="17" fill="#000"/>
<rect x="1267" y="311" width="1" height="7" fill="#000"/>
<rect x="1266.5" y="313.5" width="2" height="2" fill="#fff" stroke="#000" stroke-width="1"/>
<rect x="1272" y="291" width="1" height="27" fill="#000"/>
<rect x="1271.5" y="308.5" width="2" height="6" fill="#fff" stroke="#000" stroke-width="1"/>
<rect x="1277" y="306" width="1" height="11" fill="#000"/>
<rect x="1276" y="313" width="4" height="2" fill="#000"/>
<rect x="1282" y="307" width="1" height="8" fill="#000"/>
<rect x="1281" y="308" width="4" height="6" fill="#000"/>
<rect x="1287" y="304" width="1" height="11" fill="#000"/>
<rect x="1286.5" y="311.5" width="2" height="3" fill="#fff" stroke="#000" stroke-width="1"/>
<rect x="1292" y="309" width="1" height="24" fill="#000"/>
<rect x="1291" y="312" width="4" height="12" fill="#000"/>
<rect x="1296" y="323" width="1" height="12" fill="#000"/>
<rect x="1295" y="324" width="4" height="1" fill="#000"/>
<rect x="1302" y="307" width="1" height="15" fill="#000"/>
<rect x="1301" y="316" width="4" height="1" fill="#000"/>
<rect x="1307" y="307" width="1" height="15" fill="#000"/>
<rect x="1306" y="315" width="4" height="1" fill="#000"/>
<rect x="1312" y="302" width="1" height="14" fill="#000"/>
<rect x="1311.5" y="302.5" width="2" height="10" fill="#fff" stroke="#000" stroke-width="1"/>
<rect x="1317" y="281" width="1" height="17" fill="#000"/>
<rect x="1316.5" y="281.5" width="2" height="8" fill="#fff" stroke="#000" stroke-width="1"/>
<rect x="1322" y="261" width="1" height="16" fill="#000"/>
<rect x="1321.5" y="264.5" width="2" height="12" fill="#fff" stroke="#000" stroke-width="1"/>
<rect x="1327" y="260" width="1" height="24" fill="#000"/>
<rect x="1326" y="260" width="4" height="11" fill="#000"/>
<rect x="1332" y="271" width="1" height="12" fill="#000"/>
<rect x="1331.5" y="273.5" width="2" height="3" fill="#fff" stroke="#000" stroke-width="1"/>
<rect x="1337" y="284" width="1" height="8" fill="#000"/>
<rect x="1336.5" y="288.5" width="2" height="2" fill="#fff" stroke="#000" stroke-width="1"/>
<rect x="1342" y="278" width="1" height="18" fill="#000"/>
<rect x="1341.5" y="278.5" width="2" height="9" fill="#fff" stroke="#000" stroke-width="1"/>
<rect x="1347" y="280" width="1" height="15" fill="#000"/>
<rect x="1346.5" y="285.5" width="2" height="2" fill="#fff" stroke="#000" stroke-width="1"/>
<rect x="1352" y="283" width="1" height="13" fill="#000"/>
<rect x="1351.5" y="284.5" width="2" height="2" fill="#fff" stroke="#000" stroke-width="1"/>
<rect x="1357" y="285" width="1" height="21" fill="#000"/>
<rect x="1356.5" y="291.5" width="2" height="2" fill="#fff" stroke="#000" stroke-width="1"/>
<rect x="1362" y="273" width="1" height="15" fill="#000"/>
<rect x="1361.5" y="273.5" width="2" height="12" fill="#fff" stroke="#000" stroke-width="1"/>
<rect x="1367" y="272" width="1" height="11" fill="#000"/>
<rect x="1366.5" y="278.5" width="2" height="2" fill="#fff" stroke="#000" stroke-width="1"/>
<rect x="1372" y="262" width="1" height="13" fill="#000"/>
<rect x="1371" y="265" width="4" height="5" fill="#000"/>
<rect x="1377" y="261" width="1" height="22" fill="#000"/>
<rect x="1376" y="269" width="4" height="14" fill="#000"/>
<rect x="1381" y="270" width="1" height="15" fill="#000"/>
<rect x="1380" y="278" width="4" height="1" fill="#000"/>
<rect x="1387" y="270" width="1" height="36" fill="#000"/>
<rect x="1386" y="273" width="4" height="31" fill="#000"/>
<rect x="1392" y="301" width="1" height="16" fill="#000"/>
<rect x="1391" y="301" width="4" height="16" fill="#000"/>
<rect x="1397" y="308" width="1" height="28" fill="#000"/>
<rect x="1396.5" y="308.5" width="2" height="10" fill="#fff" stroke="#000" stroke-width="1"/>
<rect x="1402" y="311" width="1" height="19" fill="#000"/>
<rect x="1401" y="311" width="4" height="2" fill="#000"/>
<rect x="1407" y="309" width="1" height="15" fill="#000"/>
<rect x="1406" y="312" width="4" height="12" fill="#000"/>
<rect x="1412" y="324" width="1" height="20" fill="#000"/>
<rect x="1411.5" y="325.5" width="2" height="3" fill="#fff" stroke="#000" stroke-width="1"/>
<rect x="1417" y="329" width="1" height="9" fill="#000"/>
<rect x="1416" y="330" width="4" height="7" fill="#000"/>
<rect x="1422" y="337" width="1" height="20" fill="#000"/>
<rect x="1421" y="339" width="4" height="1" fill="#000"/>
<rect x="1427" y="326" width="1" height="19" fill="#000"/>
<rect x="1426.5" y="330.5" width="2" height="8" fill="#fff" stroke="#000" stroke-width="1"/>
<rect x="1432" y="315" width="1" height="17" fill="#000"/>
<rect x="1431.5" y="315.5" width="2" height="10" fill="#fff" stroke="#000" stroke-width="1"/>
<rect x="1437" y="313" width="1" height="15" fill="#000"/>
<rect x="1436" y="319" width="4" height="1" fill="#000"/>
<rect x="1442" y="316" width="1" height="20" fill="#000"/>
<rect x="1441.5" y="323.5" width="2" height="6" fill="#fff" stroke="#000" stroke-width="1"/>
<rect x="1447" y="303" width="1" height="24" fill="#000"/>
<rect x="1446" y="324" width="4" height="2" fill="#000"/>
<rect x="1452" y="325" width="1" height="20" fill="#000"/>
<rect x="1451" y="329" width="4" height="16" fill="#000"/>
<rect x="1457" y="326" width="1" height="16" fill="#000"/>
<rect x="1456.5" y="326.5" width="2" height="11" fill="#fff" stroke="#000" stroke-width="1"/>
<rect x="1462" y="316" width="1" height="9" fill="#000"/>
<rect x="1461" y="322" width="4" height="1" fill="#000"/>
<rect x="1466" y="319" width="1" height="21" fill="#000"/>
<rect x="1465" y="322" width="4" height="18" fill="#000"/>
<rect x="1472" y="324" width="1" height="19" fill="#000"/>
<rect x="1471.5" y="335.5" width="2" height="5" fill="#fff" stroke="#000" stroke-width="1"/>
<rect x="1477" y="306" width="1" height="18" fill="#000"/>
<rect x="1476.5" y="314.5" width="2" height="7" fill="#fff" stroke="#000" stroke-width="1"/>
<rect x="1482" y="303" width="1" height="14" fill="#000"/>
<rect x="1481" y="307" width="4" height="10" fill="#000"/>
<rect x="1487" y="316" width="1" height="16" fill="#000"/>
<rect x="1486" y="320" width="4" height="3" fill="#000"/>
<rect x="1492" y="312" width="1" height="20" fill="#000"/>
<rect x="1491" y="319" width="4" height="6" fill="#000"/>
<rect x="1497" y="318" width="1" height="13" fill="#000"/>
<rect x="1496" y="322" width="4" height="9" fill="#000"/>
<rect x="1502" y="329" width="1" height="23" fill="#000"/>
<rect x="1501" y="331" width="4" height="21" fill="#000"/>
<rect x="1506" y="333" width="1" height="50" fill="#000"/>
<rect x="1505" y="352" width="4" height="31" fill="#000"/>
<rect x="1512" y="357" width="1" height="45" fill="#000"/>
<rect x="1511.5" y="376.5" width="2" height="16" fill="#fff" stroke="#000" stroke-width="1"/>
<rect x="1517" y="372" width="1" height="18" fill="#000"/>
<rect x="1516" y="376" width="4" height="14" fill="#000"/>
<rect x="1522" y="385" width="1" height="7" fill="#000"/>
<rect x="1521.5" y="387.5" width="2" height="2" fill="#fff" stroke="#000" stroke-width="1"/>
<rect x="1527" y="392" width="1" height="23" fill="#000"/>
<rect x="1526" y="392" width="4" height="20" fill="#000"/>
<rect x="1532" y="406" width="1" height="12" fill="#000"/>
<rect x="1531.5" y="411.5" width="2" height="2" fill="#fff" stroke="#000" stroke-width="1"/>
<rect x="1537" y="405" width="1" height="12" fill="#000"/>
<rect x="1536" y="409" width="4" height="8" fill="#000"/>
<rect x="1542" y="413" width="1" height="12" fill="#000"/>
<rect x="1541" y="416" width="4" height="7" fill="#000"/>
<rect x="1547" y="420" width="1" height="10" fill="#000"/>
<rect x="1546" y="422" width="4" height="3" fill="#000"/>
<rect x="1552" y="414" width="1" height="14" fill="#000"/>
<rect x="1551.5" y="414.5" width="2" height="7" fill="#fff" stroke="#000" stroke-width="1"/>
<rect x="1557" y="394" width="1" height="13" fill="#000"/>
<rect x="1556" y="399" width="4" height="5" fill="#000"/>
<rect x="1562" y="393" width="1" height="13" fill="#000"/>
<rect x="1561.5" y="394.5" width="2" height="3" fill="#fff" stroke="#000" stroke-width="1"/>
<rect x="1567" y="380" width="1" height="18" fill="#000"/>
<rect x="1566.5" y="380.5" width="2" height="17" fill="#fff" stroke="#000" stroke-width="1"/>
<rect x="1572" y="364" width="1" height="23" fill="#000"/>
<rect x="1571.5" y="370.5" width="2" height="13" fill="#fff" stroke="#000" stroke-width="1"/>
<rect x="1577" y="371" width="1" height="7" fill="#000"/>
<rect x="1576" y="371" width="4" height="3" fill="#000"/>
<rect x="1582" y="367" width="1" height="12" fill="#000"/>
<rect x="1581.5" y="367.5" width="2" height="11" fill="#fff" stroke="#000" stroke-width="1"/>
<rect x="1587" y="364" width="1" height="12" fill="#000"/>
<rect x="1586" y="371" width="4" height="3" fill="#000"/>
<rect x="1591" y="300" width="1" height="50" fill="#000"/>
<rect x="1590.5" y="323.5" width="2" height="22" fill="#fff" stroke="#000" stroke-width="1"/>
<rect x="1597" y="343" width="1" height="45" fill="#000"/>
<rect x="1596" y="353" width="4" height="35" fill="#000"/>
<rect x="1602" y="371" width="1" height="20" fill="#000"/>
<rect x="1601.5" y="379.5" width="2" height="11" fill="#fff" stroke="#000" stroke-width="1"/>
<rect x="1607" y="367" width="1" height="14" fill="#000"/>
<rect x="1606" y="374" width="4" height="2" fill="#000"/>
<rect x="1612" y="375" width="1" height="13" fill="#000"/>
<rect x="1611" y="377" width="4" height="9" fill="#000"/>
<rect x="1617" y="386" width="1" height="25" fill="#000"/>
<rect x="1616" y="391" width="4" height="17" fill="#000"/>
<rect x="1622" y="386" width="1" height="20" fill="#000"/>
<rect x="1621.5" y="388.5" width="2" height="14" fill="#fff" stroke="#000" stroke-width="1"/>
<rect x="1627" y="392" width="1" height="33" fill="#000"/>
<rect x="1626" y="392" width="4" height="30" fill="#000"/>
<rect x="1632" y="416" width="1" height="11" fill="#000"/>
<rect x="1631" y="421" width="4" height="4" fill="#000"/>
<rect x="1637" y="418" width="1" height="10" fill="#000"/>
<rect x="1636" y="421" width="4" height="7" fill="#000"/>
<rect x="1642" y="417" width="1" height="17" fill="#000"/>
<rect x="1641" y="425" width="4" height="3" fill="#000"/>
<rect x="1647" y="425" width="1" height="15" fill="#000"/>
<rect x="1646" y="428" width="4" height="6" fill="#000"/>
<rect x="1652" y="432" width="1" height="20" fill="#000"/>
<rect x="1651" y="435" width="4" height="17" fill="#000"/>
<rect x="1657" y="448" width="1" height="21" fill="#000"/>
<rect x="1656" y="449" width="4" height="16" fill="#000"/>
<rect x="1662" y="461" width="1" height="15" fill="#000"/>
<rect x="1661" y="467" width="4" height="9" fill="#000"/>
<rect x="1667" y="466" width="1" height="17" fill="#000"/>
<rect x="1666" y="473" width="4" height="6" fill="#000"/>
<rect x="1672" y="452" width="1" height="21" fill="#000"/>
<rect x="1671" y="461" width="4" height="9" fill="#000"/>
<rect x="1677" y="456" width="1" height="17" fill="#000"/>
<rect x="1676" y="466" width="4" height="1" fill="#000"/>
<rect x="1682" y="462" width="1" height="12" fill="#000"/>
<rect x="1681" y="468" width="4" height="2" fill="#000"/>
<rect x="1687" y="472" width="1" height="6" fill="#000"/>
<rect x="1686" y="473" width="4" height="4" fill="#000"/>
<rect x="1692" y="474" width="1" height="7" fill="#000"/>
<rect x="1691" y="474" width="4" height="7" fill="#000"/>
<rect x="1697" y="482" width="1" height="17" fill="#000"/>
<rect x="1696" y="483" width="4" height="16" fill="#000"/>
<rect x="1702" y="502" width="1" height="26" fill="#000"/>
<rect x="1701" y="504" width="4" height="24" fill="#000"/>
<rect x="1707" y="515" width="1" height="19" fill="#000"/>
<rect x="1706" y="522" width="4" height="6" fill="#000"/>
<rect x="1712" y="507" width="1" height="23" fill="#000"/>
<rect x="1711.5" y="513.5" width="2" height="14" fill="#fff" stroke="#000" stroke-width="1"/>
<rect x="1716" y="508" width="1" height="11" fill="#000"/>
<rect x="1715.5" y="510.5" width="2" height="3" fill="#fff" stroke="#000" stroke-width="1"/>
<rect x="1722" y="481" width="1" height="22" fill="#000"/>
<rect x="1721.5" y="483.5" width="2" height="19" fill="#fff" stroke="#000" stroke-width="1"/>
<rect x="1727" y="472" width="1" height="15" fill="#000"/>
<rect x="1726" y="473" width="4" height="8" fill="#000"/>
<rect x="1732" y="468" width="1" height="15" fill="#000"/>
<rect x="1731.5" y="469.5" width="2" height="9" fill="#fff" stroke="#000" stroke-width="1"/>
<rect x="1737" y="449" width="1" height="18" fill="#000"/>
<rect x="1736.5" y="465.5" width="2" height="2" fill="#fff" stroke="#000" stroke-width="1"/>
<rect x="1742" y="458" width="1" height="15" fill="#000"/>
<rect x="1741" y="466" width="4" height="1" fill="#000"/>
<rect x="1747" y="465" width="1" height="11" fill="#000"/>
<rect x="1746.5" y="465.5" width="2" height="2" fill="#fff" stroke="#000" stroke-width="1"/>
<rect x="1752" y="460" width="1" height="22" fill="#000"/>
<rect x="1751" y="460" width="4" height="21" fill="#000"/>
<rect x="1757" y="477" width="1" height="31" fill="#000"/>
<rect x="1756" y="482" width="4" height="26" fill="#000"/>
<rect x="1761" y="505" width="1" height="20" fill="#000"/>
<rect x="1760" y="507" width="4" height="12" fill="#000"/>
<rect x="1767" y="519" width="1" height="9" fill="#000"/>
<rect x="1766.5" y="526.5" width="2" height="2" fill="#fff" stroke="#000" stroke-width="1"/>
<rect x="1772" y="521" width="1" height="20" fill="#000"/>
<rect x="1771" y="523" width="4" height="3" fill="#000"/>
<rect x="1777" y="515" width="1" height="12" fill="#000"/>
<rect x="1776.5" y="518.5" width="2" height="4" fill="#fff" stroke="#000" stroke-width="1"/>
<rect x="1782" y="512" width="1" height="10" fill="#000"/>
<rect x="1781.5" y="513.5" width="2" height="8" fill="#fff" stroke="#000" stroke-width="1"/>
<rect x="1787" y="503" width="1" height="13" fill="#000"/>
<rect x="1786.5" y="505.5" width="2" height="4" fill="#fff" stroke="#000" stroke-width="1"/>
<rect x="1792" y="502" width="1" height="9" fill="#000"/>
<rect x="1791" y="504" width="4" height="1" fill="#000"/>
<rect x="1797" y="475" width="1" height="34" fill="#000"/>
<rect x="1796.5" y="479.5" width="2" height="26" fill="#fff" stroke="#000" stroke-width="1"/>
</g>
<g shape-rendering="crispEdges"><rect x="862" y="110" width="1" height="13" fill="#000"/><path d="M860 120h5l-2 3.5h-1z" fill="#000"/></g>
<g shape-rendering="crispEdges" fill="#0000ff">
<rect x="2" y="868" width="1" height="12"/>
<rect x="7" y="871" width="1" height="9"/>
<rect x="12" y="876" width="1" height="4"/>
<rect x="17" y="866" width="1" height="14"/>
<rect x="22" y="863" width="1" height="17"/>
<rect x="27" y="870" width="1" height="10"/>
<rect x="32" y="858" width="1" height="22"/>
<rect x="37" y="870" width="1" height="10"/>
<rect x="42" y="871" width="1" height="9"/>
<rect x="47" y="873" width="1" height="7"/>
<rect x="52" y="873" width="1" height="7"/>
<rect x="57" y="871" width="1" height="9"/>
<rect x="62" y="873" width="1" height="7"/>
<rect x="67" y="874" width="1" height="6"/>
<rect x="72" y="872" width="1" height="8"/>
<rect x="77" y="868" width="1" height="12"/>
<rect x="82" y="861" width="1" height="19"/>
<rect x="87" y="865" width="1" height="15"/>
<rect x="92" y="869" width="1" height="11"/>
<rect x="97" y="869" width="1" height="11"/>
<rect x="102" y="870" width="1" height="10"/>
<rect x="107" y="854" width="1" height="26"/>
<rect x="112" y="871" width="1" height="9"/>
<rect x="117" y="870" width="1" height="10"/>
<rect x="122" y="871" width="1" height="9"/>
<rect x="127" y="868" width="1" height="12"/>
<rect x="132" y="869" width="1" height="11"/>
<rect x="137" y="870" width="1" height="10"/>
<rect x="142" y="862" width="1" height="18"/>
<rect x="147" y="859" width="1" height="21"/>
<rect x="152" y="870" width="1" height="10"/>
<rect x="157" y="872" width="1" height="8"/>
<rect x="162" y="870" width="1" height="10"/>
<rect x="167" y="868" width="1" height="12"/>
<rect x="172" y="873" width="1" height="7"/>
<rect x="177" y="869" width="1" height="11"/>
<rect x="182" y="869" width="1" height="11"/>
<rect x="187" y="870" width="1" height="10"/>
<rect x="192" y="868" width="1" height="12"/>
<rect x="197" y="870" width="1" height="10"/>
<rect x="202" y="871" width="1" height="9"/>
<rect x="207" y="868" width="1" height="12"/>
<rect x="212" y="859" width="1" height="21"/>
<rect x="217" y="873" width="1" height="7"/>
<rect x="222" y="872" width="1" height="8"/>
<rect x="227" y="868" width="1" height="12"/>
<rect x="232" y="869" width="1" height="11"/>
<rect x="237" y="846" width="1" height="34"/>
<rect x="242" y="845" width="1" height="35"/>
<rect x="247" y="859" width="1" height="21"/>
<rect x="252" y="866" width="1" height="14"/>
<rect x="257" y="862" width="1" height="18"/>
<rect x="262" y="865" width="1" height="15"/>
<rect x="267" y="869" width="1" height="11"/>
<rect x="272" y="864" width="1" height="16"/>
<rect x="277" y="871" width="1" height="9"/>
<rect x="282" y="874" width="1" height="6"/>
<rect x="287" y="874" width="1" height="6"/>
<rect x="292" y="873" width="1" height="7"/>
<rect x="297" y="875" width="1" height="5"/>
<rect x="302" y="871" width="1" height="9"/>
<rect x="307" y="871" width="1" height="9"/>
<rect x="312" y="873" width="1" height="7"/>
<rect x="317" y="873" width="1" height="7"/>
<rect x="322" y="870" width="1" height="10"/>
<rect x="327" y="872" width="1" height="8"/>
<rect x="332" y="877" width="1" height="3"/>
<rect x="337" y="873" width="1" height="7"/>
<rect x="342" y="861" width="1" height="19"/>
<rect x="347" y="870" width="1" height="10"/>
<rect x="352" y="860" width="1" height="20"/>
<rect x="357" y="858" width="1" height="22"/>
<rect x="362" y="870" width="1" height="10"/>
<rect x="367" y="868" width="1" height="12"/>
<rect x="372" y="867" width="1" height="13"/>
<rect x="377" y="871" width="1" height="9"/>
<rect x="382" y="871" width="1" height="9"/>
<rect x="387" y="870" width="1" height="10"/>
<rect x="392" y="874" width="1" height="6"/>
<rect x="397" y="872" width="1" height="8"/>
<rect x="402" y="871" width="1" height="9"/>
<rect x="407" y="874" width="1" height="6"/>
<rect x="412" y="870" width="1" height="10"/>
<rect x="417" y="871" width="1" height="9"/>
<rect x="422" y="866" width="1" height="14"/>
<rect x="427" y="865" width="1" height="15"/>
<rect x="432" y="874" width="1" height="6"/>
<rect x="437" y="871" width="1" height="9"/>
<rect x="442" y="874" width="1" height="6"/>
<rect x="447" y="867" width="1" height="13"/>
<rect x="452" y="860" width="1" height="20"/>
<rect x="457" y="869" width="1" height="11"/>
<rect x="462" y="868" width="1" height="12"/>
<rect x="467" y="873" width="1" height="7"/>
<rect x="472" y="866" width="1" height="14"/>
<rect x="477" y="868" width="1" height="12"/>
<rect x="482" y="869" width="1" height="11"/>
<rect x="487" y="866" width="1" height="14"/>
<rect x="492" y="873" width="1" height="7"/>
<rect x="497" y="874" width="1" height="6"/>
<rect x="502" y="875" width="1" height="5"/>
<rect x="507" y="875" width="1" height="5"/>
<rect x="512" y="876" width="1" height="4"/>
<rect x="517" y="874" width="1" height="6"/>
<rect x="522" y="867" width="1" height="13"/>
<rect x="527" y="871" width="1" height="9"/>
<rect x="532" y="872" width="1" height="8"/>
<rect x="537" y="872" width="1" height="8"/>
<rect x="542" y="874" width="1" height="6"/>
<rect x="547" y="873" width="1" height="7"/>
<rect x="552" y="874" width="1" height="6"/>
<rect x="557" y="872" width="1" height="8"/>
<rect x="562" y="875" width="1" height="5"/>
<rect x="567" y="857" width="1" height="23"/>
<rect x="572" y="861" width="1" height="19"/>
<rect x="577" y="866" width="1" height="14"/>
<rect x="582" y="868" width="1" height="12"/>
<rect x="587" y="859" width="1" height="21"/>
<rect x="592" y="835" width="1" height="45"/>
<rect x="597" y="847" width="1" height="33"/>
<rect x="602" y="867" width="1" height="13"/>
<rect x="607" y="878" width="1" height="2"/>
<rect x="612" y="873" width="1" height="7"/>
<rect x="617" y="871" width="1" height="9"/>
<rect x="622" y="865" width="1" height="15"/>
<rect x="627" y="864" width="1" height="16"/>
<rect x="632" y="865" width="1" height="15"/>
<rect x="637" y="872" width="1" height="8"/>
<rect x="642" y="873" width="1" height="7"/>
<rect x="647" y="871" width="1" height="9"/>
<rect x="652" y="871" width="1" height="9"/>
<rect x="657" y="868" width="1" height="12"/>
<rect x="662" y="869" width="1" height="11"/>
<rect x="667" y="873" width="1" height="7"/>
<rect x="672" y="873" width="1" height="7"/>
<rect x="677" y="875" width="1" height="5"/>
<rect x="682" y="873" width="1" height="7"/>
<rect x="687" y="874" width="1" height="6"/>
<rect x="692" y="870" width="1" height="10"/>
<rect x="697" y="870" width="1" height="10"/>
<rect x="702" y="867" width="1" height="13"/>
<rect x="707" y="870" width="1" height="10"/>
<rect x="712" y="870" width="1" height="10"/>
<rect x="717" y="874" width="1" height="6"/>
<rect x="722" y="871" width="1" height="9"/>
<rect x="727" y="871" width="1" height="9"/>
<rect x="732" y="866" width="1" height="14"/>
<rect x="737" y="868" width="1" height="12"/>
<rect x="742" y="871" width="1" height="9"/>
<rect x="747" y="868" width="1" height="12"/>
<rect x="752" y="865" width="1" height="15"/>
<rect x="757" y="870" width="1" height="10"/>
<rect x="762" y="875" width="1" height="5"/>
<rect x="767" y="875" width="1" height="5"/>
<rect x="772" y="874" width="1" height="6"/>
<rect x="777" y="875" width="1" height="5"/>
<rect x="782" y="870" width="1" height="10"/>
<rect x="787" y="872" width="1" height="8"/>
<rect x="792" y="866" width="1" height="14"/>
<rect x="797" y="871" width="1" height="9"/>
<rect x="802" y="870" width="1" height="10"/>
<rect x="807" y="859" width="1" height="21"/>
<rect x="812" y="857" width="1" height="23"/>
<rect x="817" y="861" width="1" height="19"/>
<rect x="822" y="861" width="1" height="19"/>
<rect x="827" y="856" width="1" height="24"/>
<rect x="832" y="869" width="1" height="11"/>
<rect x="837" y="861" width="1" height="19"/>
<rect x="842" y="866" width="1" height="14"/>
<rect x="847" y="871" width="1" height="9"/>
<rect x="852" y="864" width="1" height="16"/>
<rect x="857" y="868" width="1" height="12"/>
<rect x="862" y="870" width="1" height="10"/>
<rect x="867" y="870" width="1" height="10"/>
<rect x="872" y="870" width="1" height="10"/>
<rect x="877" y="871" width="1" height="9"/>
<rect x="882" y="871" width="1" height="9"/>
<rect x="887" y="875" width="1" height="5"/>
<rect x="892" y="872" width="1" height="8"/>
<rect x="897" y="870" width="1" height="10"/>
<rect x="902" y="871" width="1" height="9"/>
<rect x="907" y="864" width="1" height="16"/>
<rect x="912" y="860" width="1" height="20"/>
<rect x="917" y="856" width="1" height="24"/>
<rect x="922" y="868" width="1" height="12"/>
<rect x="927" y="870" width="1" height="10"/>
<rect x="932" y="872" width="1" height="8"/>
<rect x="937" y="869" width="1" height="11"/>
<rect x="942" y="863" width="1" height="17"/>
<rect x="947" y="868" width="1" height="12"/>
<rect x="952" y="866" width="1" height="14"/>
<rect x="957" y="861" width="1" height="19"/>
<rect x="962" y="869" width="1" height="11"/>
<rect x="967" y="875" width="1" height="5"/>
<rect x="972" y="870" width="1" height="10"/>
<rect x="977" y="861" width="1" height="19"/>
<rect x="982" y="868" width="1" height="12"/>
<rect x="987" y="866" width="1" height="14"/>
<rect x="992" y="863" width="1" height="17"/>
<rect x="997" y="858" width="1" height="22"/>
<rect x="1002" y="865" width="1" height="15"/>
<rect x="1007" y="859" width="1" height="21"/>
<rect x="1012" y="864" width="1" height="16"/>
<rect x="1017" y="867" width="1" height="13"/>
<rect x="1022" y="864" width="1" height="16"/>
<rect x="1027" y="841" width="1" height="39"/>
<rect x="1032" y="849" width="1" height="31"/>
<rect x="1037" y="856" width="1" height="24"/>
<rect x="1042" y="867" width="1" height="13"/>
<rect x="1047" y="862" width="1" height="18"/>
<rect x="1052" y="863" width="1" height="17"/>
<rect x="1057" y="870" width="1" height="10"/>
<rect x="1062" y="871" width="1" height="9"/>
<rect x="1067" y="870" width="1" height="10"/>
<rect x="1072" y="869" width="1" height="11"/>
<rect x="1077" y="866" width="1" height="14"/>
<rect x="1082" y="864" width="1" height="16"/>
<rect x="1086" y="868" width="1" height="12"/>
<rect x="1092" y="868" width="1" height="12"/>
<rect x="1097" y="862" width="1" height="18"/>
<rect x="1102" y="846" width="1" height="34"/>
<rect x="1107" y="841" width="1" height="39"/>
<rect x="1112" y="860" width="1" height="20"/>
<rect x="1117" y="865" width="1" height="15"/>
<rect x="1122" y="860" width="1" height="20"/>
<rect x="1127" y="868" width="1" height="12"/>
<rect x="1132" y="871" width="1" height="9"/>
<rect x="1137" y="871" width="1" height="9"/>
<rect x="1142" y="867" width="1" height="13"/>
<rect x="1147" y="869" width="1" height="11"/>
<rect x="1152" y="868" width="1" height="12"/>
<rect x="1157" y="864" width="1" height="16"/>
<rect x="1162" y="870" width="1" height="10"/>
<rect x="1167" y="872" width="1" height="8"/>
<rect x="1171" y="873" width="1" height="7"/>
<rect x="1177" y="874" width="1" height="6"/>
<rect x="1182" y="866" width="1" height="14"/>
<rect x="1187" y="864" width="1" height="16"/>
<rect x="1192" y="873" width="1" height="7"/>
<rect x="1197" y="866" width="1" height="14"/>
<rect x="1202" y="857" width="1" height="23"/>
<rect x="1207" y="862" width="1" height="18"/>
<rect x="1212" y="860" width="1" height="20"/>
<rect x="1217" y="866" width="1" height="14"/>
<rect x="1222" y="867" width="1" height="13"/>
<rect x="1227" y="864" width="1" height="16"/>
<rect x="1232" y="861" width="1" height="19"/>
<rect x="1237" y="863" width="1" height="17"/>
<rect x="1242" y="867" width="1" height="13"/>
<rect x="1247" y="865" width="1" height="15"/>
<rect x="1252" y="870" width="1" height="10"/>
<rect x="1257" y="867" width="1" height="13"/>
<rect x="1262" y="861" width="1" height="19"/>
<rect x="1267" y="870" width="1" height="10"/>
<rect x="1272" y="863" width="1" height="17"/>
<rect x="1277" y="866" width="1" height="14"/>
<rect x="1282" y="875" width="1" height="5"/>
<rect x="1287" y="853" width="1" height="27"/>
<rect x="1292" y="870" width="1" height="10"/>
<rect x="1296" y="863" width="1" height="17"/>
<rect x="1302" y="860" width="1" height="20"/>
<rect x="1307" y="864" width="1" height="16"/>
<rect x="1312" y="869" width="1" height="11"/>
<rect x="1317" y="856" width="1" height="24"/>
<rect x="1322" y="859" width="1" height="21"/>
<rect x="1327" y="867" width="1" height="13"/>
<rect x="1332" y="872" width="1" height="8"/>
<rect x="1337" y="862" width="1" height="18"/>
<rect x="1342" y="869" width="1" height="11"/>
<rect x="1347" y="865" width="1" height="15"/>
<rect x="1352" y="865" width="1" height="15"/>
<rect x="1357" y="862" width="1" height="18"/>
<rect x="1362" y="859" width="1" height="21"/>
<rect x="1367" y="871" width="1" height="9"/>
<rect x="1372" y="867" width="1" height="13"/>
<rect x="1377" y="868" width="1" height="12"/>
<rect x="1381" y="870" width="1" height="10"/>
<rect x="1387" y="866" width="1" height="14"/>
<rect x="1392" y="862" width="1" height="18"/>
<rect x="1397" y="859" width="1" height="21"/>
<rect x="1402" y="861" width="1" height="19"/>
<rect x="1407" y="866" width="1" height="14"/>
<rect x="1412" y="858" width="1" height="22"/>
<rect x="1417" y="867" width="1" height="13"/>
<rect x="1422" y="855" width="1" height="25"/>
<rect x="1427" y="864" width="1" height="16"/>
<rect x="1432" y="868" width="1" height="12"/>
<rect x="1437" y="868" width="1" height="12"/>
<rect x="1442" y="867" width="1" height="13"/>
<rect x="1447" y="859" width="1" height="21"/>
<rect x="1452" y="868" width="1" height="12"/>
<rect x="1457" y="867" width="1" height="13"/>
<rect x="1462" y="869" width="1" height="11"/>
<rect x="1466" y="862" width="1" height="18"/>
<rect x="1472" y="868" width="1" height="12"/>
<rect x="1477" y="862" width="1" height="18"/>
<rect x="1482" y="867" width="1" height="13"/>
<rect x="1487" y="864" width="1" height="16"/>
<rect x="1492" y="864" width="1" height="16"/>
<rect x="1497" y="868" width="1" height="12"/>
<rect x="1502" y="864" width="1" height="16"/>
<rect x="1506" y="841" width="1" height="39"/>
<rect x="1512" y="802" width="1" height="78"/>
<rect x="1517" y="861" width="1" height="19"/>
<rect x="1522" y="867" width="1" height="13"/>
<rect x="1527" y="858" width="1" height="22"/>
<rect x="1532" y="861" width="1" height="19"/>
<rect x="1537" y="866" width="1" height="14"/>
<rect x="1542" y="866" width="1" height="14"/>
<rect x="1547" y="864" width="1" height="16"/>
<rect x="1552" y="863" width="1" height="17"/>
<rect x="1557" y="857" width="1" height="23"/>
<rect x="1562" y="857" width="1" height="23"/>
<rect x="1567" y="861" width="1" height="19"/>
<rect x="1572" y="863" width="1" height="17"/>
<rect x="1577" y="869" width="1" height="11"/>
<rect x="1582" y="868" width="1" height="12"/>
<rect x="1587" y="867" width="1" height="13"/>
<rect x="1591" y="616" width="1" height="264"/>
<rect x="1597" y="806" width="1" height="74"/>
<rect x="1602" y="846" width="1" height="34"/>
<rect x="1607" y="861" width="1" height="19"/>
<rect x="1612" y="864" width="1" height="16"/>
<rect x="1617" y="861" width="1" height="19"/>
<rect x="1622" y="865" width="1" height="15"/>
<rect x="1627" y="850" width="1" height="30"/>
<rect x="1632" y="856" width="1" height="24"/>
<rect x="1637" y="868" width="1" height="12"/>
<rect x="1642" y="861" width="1" height="19"/>
<rect x="1647" y="859" width="1" height="21"/>
<rect x="1652" y="854" width="1" height="26"/>
<rect x="1657" y="853" width="1" height="27"/>
<rect x="1662" y="853" width="1" height="27"/>
<rect x="1667" y="853" width="1" height="27"/>
<rect x="1672" y="845" width="1" height="35"/>
<rect x="1677" y="859" width="1" height="21"/>
<rect x="1682" y="854" width="1" height="26"/>
<rect x="1687" y="866" width="1" height="14"/>
<rect x="1692" y="862" width="1" height="18"/>
<rect x="1697" y="853" width="1" height="27"/>
<rect x="1702" y="850" width="1" height="30"/>
<rect x="1707" y="858" width="1" height="22"/>
<rect x="1712" y="864" width="1" height="16"/>
<rect x="1716" y="864" width="1" height="16"/>
<rect x="1722" y="851" width="1" height="29"/>
<rect x="1727" y="856" width="1" height="24"/>
<rect x="1732" y="860" width="1" height="20"/>
<rect x="1737" y="842" width="1" height="38"/>
<rect x="1742" y="867" width="1" height="13"/>
<rect x="1747" y="861" width="1" height="19"/>
<rect x="1752" y="859" width="1" height="21"/>
<rect x="1757" y="846" width="1" height="34"/>
<rect x="1761" y="844" width="1" height="36"/>
<rect x="1767" y="864" width="1" height="16"/>
<rect x="1772" y="860" width="1" height="20"/>
<rect x="1777" y="862" width="1" height="18"/>
<rect x="1782" y="859" width="1" height="21"/>
<rect x="1787" y="862" width="1" height="18"/>
<rect x="1792" y="866" width="1" height="14"/>
<rect x="1797" y="848" width="1" height="32"/>
</g>
<polyline points="-2.5,741.0 2.5,756.5 7.5,757.0 12.5,734.4 17.5,742.4 22.5,669.7 27.5,674.5 32.5,743.7 37.5,727.7 42.5,721.1 47.5,683.0 52.5,677.2 57.5,651.9 62.5,735.7 67.5,758.3 72.5,709.1 77.5,701.6 82.5,782.3 87.5,796.9 92.5,747.7 97.5,782.3 102.5,761.0 107.5,807.6 112.5,759.7 117.5,791.6 122.5,800.1 127.5,791.6 132.5,799.6 137.5,787.6 142.5,679.8 147.5,650.6 152.5,635.4 157.5,651.9 162.5,699.8 167.5,682.5 172.5,671.8 177.5,646.6 182.5,639.9 187.5,718.4 192.5,669.7 197.5,664.7 202.5,663.9 207.5,646.6 212.5,630.6 217.5,630.6 222.5,653.2 227.5,639.9 232.5,627.4 237.5,627.4 242.5,817.7 247.5,745.6 252.5,745.8 257.5,729.6 262.5,761.0 267.5,761.8 272.5,773.0 277.5,779.1 282.5,770.3 287.5,739.2 292.5,753.0 297.5,771.1 302.5,703.8 307.5,679.8 312.5,662.5 317.5,663.1 322.5,673.2 327.5,621.8 332.5,683.0 337.5,666.5 342.5,616.5 347.5,613.3 352.5,687.8 357.5,773.0 362.5,769.0 367.5,713.1 372.5,749.0 377.5,756.2 382.5,697.1 387.5,683.8 392.5,716.3 397.5,743.7 402.5,692.6 407.5,705.1 412.5,726.4 417.5,743.7 422.5,687.8 427.5,729.9 432.5,729.9 437.5,749.0 442.5,706.4 447.5,737.0 452.5,652.4 457.5,691.8 462.5,719.7 467.5,699.3 472.5,783.6 477.5,754.3 482.5,738.4 487.5,699.3 492.5,726.4 497.5,741.0 502.5,705.6 507.5,722.4 512.5,718.4 517.5,714.4 522.5,657.2 527.5,690.5 532.5,722.4 537.5,739.7 542.5,773.0 547.5,755.7 552.5,780.4 557.5,687.0 562.5,711.8 567.5,770.3 572.5,795.6 577.5,800.4 582.5,765.0 587.5,722.4 592.5,637.3 597.5,625.8 602.5,620.8 607.5,615.2 612.5,663.9 617.5,717.1 622.5,757.0 627.5,713.6 632.5,759.7 637.5,759.1 642.5,743.7 647.5,761.0 652.5,685.7 657.5,686.5 662.5,706.4 667.5,699.8 672.5,747.2 677.5,738.4 682.5,766.3 687.5,783.1 692.5,787.1 697.5,744.5 702.5,785.5 707.5,766.3 712.5,753.5 717.5,786.3 722.5,812.9 727.5,767.6 732.5,791.6 737.5,812.1 742.5,779.6 747.5,814.2 752.5,774.3 757.5,777.0 762.5,782.3 767.5,794.3 772.5,732.3 777.5,775.1 782.5,679.8 787.5,661.2 792.5,677.2 797.5,658.5 802.5,686.5 807.5,734.4 812.5,772.4 817.5,724.3 822.5,757.0 827.5,711.8 832.5,711.2 837.5,648.7 842.5,638.6 847.5,628.5 852.5,694.5 857.5,666.5 862.5,661.2 867.5,746.4 872.5,724.3 877.5,745.0 882.5,751.7 887.5,769.0 892.5,769.5 897.5,788.9 902.5,822.2 907.5,838.2 912.5,801.4 917.5,795.6 922.5,754.3 927.5,736.5 932.5,745.0 937.5,783.6 942.5,756.5 947.5,758.9 952.5,779.6 957.5,657.2 962.5,732.3 967.5,720.3 972.5,716.3 977.5,692.3 982.5,753.0 987.5,769.0 992.5,788.9 997.5,833.6 1002.5,786.3 1007.5,687.0 1012.5,721.1 1017.5,730.4 1022.5,746.4 1027.5,787.6 1032.5,791.6 1037.5,765.0 1042.5,773.0 1047.5,799.6 1052.5,761.5 1057.5,740.2 1062.5,758.9 1067.5,771.6 1072.5,777.0 1077.5,798.2 1082.5,832.0 1086.5,799.0 1092.5,812.3 1097.5,783.6 1102.5,717.1 1107.5,783.1 1112.5,703.2 1117.5,759.7 1122.5,738.4 1127.5,685.2 1132.5,670.0 1137.5,655.9 1142.5,645.8 1147.5,651.9 1152.5,654.6 1157.5,642.6 1162.5,627.9 1167.5,653.2 1171.5,673.2 1177.5,655.9 1182.5,632.5 1187.5,709.1 1192.5,667.9 1197.5,733.0 1202.5,786.3 1207.5,756.2 1212.5,778.3 1217.5,741.0 1222.5,742.9 1227.5,783.6 1232.5,794.3 1237.5,750.9 1242.5,774.3 1247.5,781.7 1252.5,795.6 1257.5,812.9 1262.5,832.3 1267.5,783.6 1272.5,767.1 1277.5,781.5 1282.5,771.6 1287.5,761.5 1292.5,795.1 1296.5,796.4 1302.5,746.4 1307.5,738.4 1312.5,679.8 1317.5,631.9 1322.5,617.3 1327.5,649.2 1332.5,663.9 1337.5,721.6 1342.5,695.8 1347.5,723.2 1352.5,716.3 1357.5,745.0 1362.5,682.5 1367.5,704.3 1372.5,677.2 1377.5,732.3 1381.5,716.3 1387.5,783.6 1392.5,807.6 1397.5,767.6 1402.5,778.8 1407.5,799.0 1412.5,801.4 1417.5,822.2 1422.5,824.3 1427.5,766.3 1432.5,705.6 1437.5,727.7 1442.5,733.0 1447.5,751.7 1452.5,804.4 1457.5,723.7 1462.5,712.3 1466.5,766.3 1472.5,746.4 1477.5,686.5 1482.5,694.5 1487.5,715.8 1492.5,729.6 1497.5,747.7 1502.5,800.9 1506.5,835.5 1512.5,810.2 1517.5,824.9 1522.5,809.7 1527.5,833.4 1532.5,825.4 1537.5,832.8 1542.5,836.8 1547.5,840.8 1552.5,778.3 1557.5,727.7 1562.5,694.5 1567.5,657.2 1572.5,641.2 1577.5,667.9 1582.5,652.4 1587.5,687.8 1591.5,618.1 1597.5,745.8 1602.5,732.3 1607.5,727.7 1612.5,744.5 1617.5,775.6 1622.5,732.3 1627.5,777.0 1632.5,780.9 1637.5,786.3 1642.5,784.1 1647.5,795.6 1652.5,819.5 1657.5,831.5 1662.5,840.2 1667.5,842.3 1672.5,792.9 1677.5,775.6 1682.5,786.3 1687.5,802.2 1692.5,811.5 1697.5,834.4 1702.5,856.3 1707.5,856.3 1712.5,786.0 1716.5,769.0 1722.5,687.3 1727.5,681.2 1732.5,656.7 1737.5,650.6 1742.5,657.2 1747.5,655.9 1752.5,727.7 1757.5,801.4 1761.5,816.9 1767.5,825.4 1772.5,823.0 1777.5,770.3 1782.5,750.9 1787.5,713.6 1792.5,711.8 1797.5,642.6" fill="none" stroke="#ff0000" stroke-width="1" shape-rendering="crispEdges"/>
<g shape-rendering="crispEdges" fill="#000">
<rect x="1855" y="0" width="1" height="881"/>
<rect x="1856" y="2" width="5" height="1"/>
<rect x="1856" y="9" width="2" height="1"/>
<rect x="1856" y="15" width="5" height="1"/>
<rect x="1856" y="21" width="2" height="1"/>
<rect x="1856" y="27" width="5" height="1"/>
<rect x="1856" y="34" width="2" height="1"/>
<rect x="1856" y="40" width="5" height="1"/>
<rect x="1856" y="46" width="2" height="1"/>
<rect x="1856" y="53" width="5" height="1"/>
<rect x="1856" y="59" width="2" height="1"/>
<rect x="1856" y="65" width="5" height="1"/>
<rect x="1856" y="71" width="2" height="1"/>
<rect x="1856" y="78" width="5" height="1"/>
<rect x="1856" y="84" width="2" height="1"/>
<rect x="1856" y="90" width="5" height="1"/>
<rect x="1856" y="96" width="2" height="1"/>
<rect x="1856" y="103" width="5" height="1"/>
<rect x="1856" y="109" width="2" height="1"/>
<rect x="1856" y="115" width="5" height="1"/>
<rect x="1856" y="121" width="2" height="1"/>
<rect x="1856" y="128" width="5" height="1"/>
<rect x="1856" y="134" width="2" height="1"/>
<rect x="1856" y="140" width="5" height="1"/>
<rect x="1856" y="147" width="2" height="1"/>
<rect x="1856" y="153" width="5" height="1"/>
<rect x="1856" y="159" width="2" height="1"/>
<rect x="1856" y="165" width="5" height="1"/>
<rect x="1856" y="172" width="2" height="1"/>
<rect x="1856" y="178" width="5" height="1"/>
<rect x="1856" y="184" width="2" height="1"/>
<rect x="1856" y="190" width="5" height="1"/>
<rect x="1856" y="197" width="2" height="1"/>
<rect x="1856" y="203" width="5" height="1"/>
<rect x="1856" y="209" width="2" height="1"/>
<rect x="1856" y="215" width="5" height="1"/>
<rect x="1856" y="222" width="2" height="1"/>
<rect x="1856" y="228" width="5" height="1"/>
<rect x="1856" y="234" width="2" height="1"/>
<rect x="1856" y="241" width="5" height="1"/>
<rect x="1856" y="247" width="2" height="1"/>
<rect x="1856" y="253" width="5" height="1"/>
<rect x="1856" y="259" width="2" height="1"/>
<rect x="1856" y="266" width="5" height="1"/>
<rect x="1856" y="272" width="2" height="1"/>
<rect x="1856" y="278" width="5" height="1"/>
<rect x="1856" y="284" width="2" height="1"/>
<rect x="1856" y="291" width="5" height="1"/>
<rect x="1856" y="297" width="2" height="1"/>
<rect x="1856" y="303" width="5" height="1"/>
<rect x="1856" y="309" width="2" height="1"/>
<rect x="1856" y="316" width="5" height="1"/>
<rect x="1856" y="322" width="2" height="1"/>
<rect x="1856" y="328" width="5" height="1"/>
<rect x="1856" y="335" width="2" height="1"/>
<rect x="1856" y="341" width="5" height="1"/>
<rect x="1856" y="347" width="2" height="1"/>
<rect x="1856" y="353" width="5" height="1"/>
<rect x="1856" y="360" width="2" height="1"/>
<rect x="1856" y="366" width="5" height="1"/>
<rect x="1856" y="372" width="2" height="1"/>
<rect x="1856" y="378" width="5" height="1"/>
<rect x="1856" y="385" width="2" height="1"/>
<rect x="1856" y="391" width="5" height="1"/>
<rect x="1856" y="397" width="2" height="1"/>
<rect x="1856" y="403" width="5" height="1"/>
<rect x="1856" y="410" width="2" height="1"/>
<rect x="1856" y="416" width="5" height="1"/>
<rect x="1856" y="422" width="2" height="1"/>
<rect x="1856" y="429" width="5" height="1"/>
<rect x="1856" y="435" width="2" height="1"/>
<rect x="1856" y="441" width="5" height="1"/>
<rect x="1856" y="447" width="2" height="1"/>
<rect x="1856" y="454" width="5" height="1"/>
<rect x="1856" y="460" width="2" height="1"/>
<rect x="1856" y="466" width="5" height="1"/>
<rect x="1856" y="472" width="2" height="1"/>
<rect x="1856" y="479" width="5" height="1"/>
<rect x="1856" y="485" width="2" height="1"/>
<rect x="1856" y="491" width="5" height="1"/>
<rect x="1856" y="497" width="2" height="1"/>
<rect x="1856" y="504" width="5" height="1"/>
<rect x="1856" y="510" width="2" height="1"/>
<rect x="1856" y="516" width="5" height="1"/>
<rect x="1856" y="523" width="2" height="1"/>
<rect x="1856" y="529" width="5" height="1"/>
<rect x="1856" y="535" width="2" height="1"/>
<rect x="1856" y="541" width="5" height="1"/>
<rect x="1856" y="548" width="2" height="1"/>
<rect x="1856" y="554" width="5" height="1"/>
<rect x="1856" y="560" width="2" height="1"/>
<rect x="1856" y="566" width="5" height="1"/>
<rect x="1856" y="573" width="2" height="1"/>
<rect x="1856" y="579" width="5" height="1"/>
<rect x="1856" y="585" width="2" height="1"/>
<rect x="1856" y="591" width="5" height="1"/>
<rect x="1856" y="596" width="2" height="1"/>
<rect x="1856" y="601" width="5" height="1"/>
<rect x="1856" y="607" width="2" height="1"/>
<rect x="1856" y="612" width="5" height="1"/>
<rect x="1856" y="617" width="2" height="1"/>
<rect x="1856" y="623" width="5" height="1"/>
<rect x="1856" y="628" width="2" height="1"/>
<rect x="1856" y="633" width="5" height="1"/>
<rect x="1856" y="639" width="2" height="1"/>
<rect x="1856" y="644" width="5" height="1"/>
<rect x="1856" y="649" width="2" height="1"/>
<rect x="1856" y="655" width="5" height="1"/>
<rect x="1856" y="660" width="2" height="1"/>
<rect x="1856" y="666" width="5" height="1"/>
<rect x="1856" y="671" width="2" height="1"/>
<rect x="1856" y="676" width="5" height="1"/>
<rect x="1856" y="682" width="2" height="1"/>
<rect x="1856" y="687" width="5" height="1"/>
<rect x="1856" y="692" width="2" height="1"/>
<rect x="1856" y="698" width="5" height="1"/>
<rect x="1856" y="703" width="2" height="1"/>
<rect x="1856" y="708" width="5" height="1"/>
<rect x="1856" y="714" width="2" height="1"/>
<rect x="1856" y="719" width="5" height="1"/>
<rect x="1856" y="724" width="2" height="1"/>
<rect x="1856" y="730" width="5" height="1"/>
<rect x="1856" y="735" width="2" height="1"/>
<rect x="1856" y="741" width="5" height="1"/>
<rect x="1856" y="746" width="2" height="1"/>
<rect x="1856" y="751" width="5" height="1"/>
<rect x="1856" y="757" width="2" height="1"/>
<rect x="1856" y="762" width="5" height="1"/>
<rect x="1856" y="767" width="2" height="1"/>
<rect x="1856" y="773" width="5" height="1"/>
<rect x="1856" y="778" width="2" height="1"/>
<rect x="1856" y="783" width="5" height="1"/>
<rect x="1856" y="789" width="2" height="1"/>
<rect x="1856" y="794" width="5" height="1"/>
<rect x="1856" y="799" width="2" height="1"/>
<rect x="1856" y="805" width="5" height="1"/>
<rect x="1856" y="810" width="2" height="1"/>
<rect x="1856" y="816" width="5" height="1"/>
<rect x="1856" y="821" width="2" height="1"/>
<rect x="1856" y="826" width="5" height="1"/>
<rect x="1856" y="832" width="2" height="1"/>
<rect x="1856" y="837" width="5" height="1"/>
<rect x="1856" y="842" width="2" height="1"/>
<rect x="1856" y="848" width="5" height="1"/>
<rect x="1856" y="853" width="2" height="1"/>
<rect x="1856" y="858" width="5" height="1"/>
<rect x="1856" y="864" width="2" height="1"/>
<rect x="1856" y="869" width="5" height="1"/>
<rect x="1856" y="874" width="2" height="1"/>
<rect x="0" y="880" width="1856" height="1"/>
<rect x="0" y="891" width="1856" height="1"/>
<rect x="12" y="880" width="1" height="12"/>
<rect x="37" y="880" width="1" height="12"/>
<rect x="62" y="880" width="1" height="12"/>
<rect x="87" y="880" width="1" height="12"/>
<rect x="112" y="880" width="1" height="12"/>
<rect x="137" y="880" width="1" height="12"/>
<rect x="162" y="880" width="1" height="12"/>
<rect x="187" y="880" width="1" height="12"/>
<rect x="212" y="880" width="1" height="12"/>
<rect x="237" y="880" width="1" height="12"/>
<rect x="262" y="880" width="1" height="12"/>
<rect x="287" y="880" width="1" height="12"/>
<rect x="307" y="880" width="1" height="12"/>
<rect x="332" y="880" width="1" height="12"/>
<rect x="357" y="880" width="1" height="12"/>
<rect x="382" y="880" width="1" height="12"/>
<rect x="407" y="880" width="1" height="12"/>
<rect x="432" y="880" width="1" height="12"/>
<rect x="457" y="880" width="1" height="12"/>
<rect x="482" y="880" width="1" height="12"/>
<rect x="507" y="880" width="1" height="12"/>
<rect x="532" y="880" width="1" height="12"/>
<rect x="557" y="880" width="1" height="12"/>
<rect x="582" y="880" width="1" height="12"/>
<rect x="607" y="880" width="1" height="12"/>
<rect x="632" y="880" width="1" height="12"/>
<rect x="657" y="880" width="1" height="12"/>
<rect x="682" y="880" width="1" height="12"/>
<rect x="707" y="880" width="1" height="12"/>
<rect x="732" y="880" width="1" height="12"/>
<rect x="757" y="880" width="1" height="12"/>
<rect x="767" y="880" width="1" height="12"/>
<rect x="782" y="880" width="1" height="12"/>
<rect x="807" y="880" width="1" height="12"/>
<rect x="832" y="880" width="1" height="12"/>
<rect x="857" y="880" width="1" height="12"/>
<rect x="882" y="880" width="1" height="12"/>
<rect x="907" y="880" width="1" height="12"/>
<rect x="932" y="880" width="1" height="12"/>
<rect x="957" y="880" width="1" height="12"/>
<rect x="982" y="880" width="1" height="12"/>
<rect x="1007" y="880" width="1" height="12"/>
<rect x="1032" y="880" width="1" height="12"/>
<rect x="1057" y="880" width="1" height="12"/>
<rect x="1082" y="880" width="1" height="12"/>
<rect x="1107" y="880" width="1" height="12"/>
<rect x="1132" y="880" width="1" height="12"/>
<rect x="1152" y="880" width="1" height="12"/>
<rect x="1171" y="880" width="1" height="12"/>
<rect x="1192" y="880" width="1" height="12"/>
<rect x="1217" y="880" width="1" height="12"/>
<rect x="1242" y="880" width="1" height="12"/>
<rect x="1267" y="880" width="1" height="12"/>
<rect x="1292" y="880" width="1" height="12"/>
<rect x="1317" y="880" width="1" height="12"/>
<rect x="1342" y="880" width="1" height="12"/>
<rect x="1367" y="880" width="1" height="12"/>
<rect x="1392" y="880" width="1" height="12"/>
<rect x="1417" y="880" width="1" height="12"/>
<rect x="1442" y="880" width="1" height="12"/>
<rect x="1466" y="880" width="1" height="12"/>
<rect x="1492" y="880" width="1" height="12"/>
<rect x="1517" y="880" width="1" height="12"/>
<rect x="1542" y="880" width="1" height="12"/>
<rect x="1562" y="880" width="1" height="12"/>
<rect x="1587" y="880" width="1" height="12"/>
<rect x="1612" y="880" width="1" height="12"/>
<rect x="1637" y="880" width="1" height="12"/>
<rect x="1662" y="880" width="1" height="12"/>
<rect x="1687" y="880" width="1" height="12"/>
<rect x="1712" y="880" width="1" height="12"/>
<rect x="1737" y="880" width="1" height="12"/>
<rect x="1761" y="880" width="1" height="12"/>
<rect x="1787" y="880" width="1" height="12"/>
<rect x="1812" y="880" width="1" height="12"/>
<rect x="1837" y="880" width="1" height="12"/>
<rect x="37" y="880" width="1" height="22"/>
<rect x="137" y="880" width="1" height="22"/>
<rect x="252" y="880" width="1" height="22"/>
<rect x="357" y="880" width="1" height="22"/>
<rect x="462" y="880" width="1" height="22"/>
<rect x="577" y="880" width="1" height="22"/>
<rect x="682" y="880" width="1" height="22"/>
<rect x="772" y="880" width="1" height="22"/>
<rect x="882" y="880" width="1" height="22"/>
<rect x="982" y="880" width="1" height="22"/>
<rect x="1086" y="880" width="1" height="22"/>
<rect x="1187" y="880" width="1" height="22"/>
<rect x="1292" y="880" width="1" height="22"/>
<rect x="1397" y="880" width="1" height="22"/>
<rect x="1512" y="880" width="1" height="22"/>
<rect x="1612" y="880" width="1" height="22"/>
<rect x="1722" y="880" width="1" height="22"/>
<rect x="1837" y="880" width="1" height="22"/>
<rect x="1857" y="872" width="17" height="1"/><rect x="1857" y="872" width="1" height="9"/><rect x="1873" y="872" width="1" height="9"/>
</g>
<g font-family="Liberation Sans, sans-serif" font-size="9px" fill="#1a1a1a">
<text x="1888" y="582.8" text-anchor="end">70</text>
<text x="1888" y="570.3" text-anchor="end">71</text>
<text x="1888" y="557.7" text-anchor="end">72</text>
<text x="1888" y="545.2" text-anchor="end">73</text>
<text x="1888" y="532.7" text-anchor="end">74</text>
<text x="1888" y="520.1" text-anchor="end">75</text>
<text x="1888" y="507.6" text-anchor="end">76</text>
<text x="1888" y="495.1" text-anchor="end">77</text>
<text x="1888" y="482.5" text-anchor="end">78</text>
<text x="1888" y="470.0" text-anchor="end">79</text>
<text x="1888" y="457.5" text-anchor="end">80</text>
<text x="1888" y="444.9" text-anchor="end">81</text>
<text x="1888" y="432.4" text-anchor="end">82</text>
<text x="1888" y="419.9" text-anchor="end">83</text>
<text x="1888" y="407.3" text-anchor="end">84</text>
<text x="1888" y="394.8" text-anchor="end">85</text>
<text x="1888" y="382.3" text-anchor="end">86</text>
<text x="1888" y="369.7" text-anchor="end">87</text>
<text x="1888" y="357.2" text-anchor="end">88</text>
<text x="1888" y="344.7" text-anchor="end">89</text>
<text x="1888" y="332.1" text-anchor="end">90</text>
<text x="1888" y="319.6" text-anchor="end">91</text>
<text x="1888" y="307.1" text-anchor="end">92</text>
<text x="1888" y="294.5" text-anchor="end">93</text>
<text x="1888" y="282.0" text-anchor="end">94</text>
<text x="1888" y="269.5" text-anchor="end">95</text>
<text x="1888" y="256.9" text-anchor="end">96</text>
<text x="1888" y="244.4" text-anchor="end">97</text>
<text x="1888" y="231.9" text-anchor="end">98</text>
<text x="1888" y="219.3" text-anchor="end">99</text>
<text x="1888" y="206.8" text-anchor="end">100</text>
<text x="1888" y="194.3" text-anchor="end">101</text>
<text x="1888" y="181.7" text-anchor="end">102</text>
<text x="1888" y="169.2" text-anchor="end">103</text>
<text x="1888" y="156.7" text-anchor="end">104</text>
<text x="1888" y="144.1" text-anchor="end">105</text>
<text x="1888" y="131.6" text-anchor="end">106</text>
<text x="1888" y="119.1" text-anchor="end">107</text>
<text x="1888" y="106.5" text-anchor="end">108</text>
<text x="1888" y="94.0" text-anchor="end">109</text>
<text x="1888" y="81.5" text-anchor="end">110</text>
<text x="1888" y="68.9" text-anchor="end">111</text>
<text x="1888" y="56.4" text-anchor="end">112</text>
<text x="1888" y="43.9" text-anchor="end">113</text>
<text x="1888" y="31.3" text-anchor="end">114</text>
<text x="1888" y="18.8" text-anchor="end">115</text>
<text x="1888" y="873.1" text-anchor="end">1000</text>
<text x="1888" y="862.1" text-anchor="end">2000</text>
<text x="1888" y="852.1" text-anchor="end">3000</text>
<text x="1888" y="841.1" text-anchor="end">4000</text>
<text x="1888" y="830.1" text-anchor="end">5000</text>
<text x="1888" y="820.1" text-anchor="end">6000</text>
<text x="1888" y="809.1" text-anchor="end">7000</text>
<text x="1888" y="798.1" text-anchor="end">8000</text>
<text x="1888" y="787.1" text-anchor="end">9000</text>
<text x="1888" y="777.1" text-anchor="end">10000</text>
<text x="1888" y="766.1" text-anchor="end">11000</text>
<text x="1888" y="755.1" text-anchor="end">12000</text>
<text x="1888" y="745.1" text-anchor="end">13000</text>
<text x="1888" y="734.1" text-anchor="end">14000</text>
<text x="1888" y="723.1" text-anchor="end">15000</text>
<text x="1888" y="712.1" text-anchor="end">16000</text>
<text x="1888" y="702.1" text-anchor="end">17000</text>
<text x="1888" y="691.1" text-anchor="end">18000</text>
<text x="1888" y="680.1" text-anchor="end">19000</text>
<text x="1888" y="670.1" text-anchor="end">20000</text>
<text x="1888" y="659.1" text-anchor="end">21000</text>
<text x="1888" y="648.1" text-anchor="end">22000</text>
<text x="1888" y="637.1" text-anchor="end">23000</text>
<text x="1888" y="627.1" text-anchor="end">24000</text>
<text x="1888" y="616.1" text-anchor="end">25000</text>
<text x="1888" y="605.1" text-anchor="end">26000</text>
<text x="1859" y="879" font-size="6px">x100</text>
<clipPath id="cx"><rect x="0" y="880" width="1855" height="22"/></clipPath><g clip-path="url(#cx)">
<text x="13" y="889" font-size="8.3px">27</text>
<text x="38" y="889" font-size="8.3px">3</text>
<text x="63" y="889" font-size="8.3px">10</text>
<text x="88" y="889" font-size="8.3px">17</text>
<text x="113" y="889" font-size="8.3px">24</text>
<text x="138" y="889" font-size="8.3px">1</text>
<text x="163" y="889" font-size="8.3px">8</text>
<text x="188" y="889" font-size="8.3px">15</text>
<text x="213" y="889" font-size="8.3px">22</text>
<text x="238" y="889" font-size="8.3px">29</text>
<text x="263" y="889" font-size="8.3px">5</text>
<text x="288" y="889" font-size="8.3px">12</text>
<text x="308" y="889" font-size="8.3px">19</text>
<text x="333" y="889" font-size="8.3px">26</text>
<text x="358" y="889" font-size="8.3px">2</text>
<text x="383" y="889" font-size="8.3px">9</text>
<text x="408" y="889" font-size="8.3px">16</text>
<text x="433" y="889" font-size="8.3px">23</text>
<text x="458" y="889" font-size="8.3px">30</text>
<text x="483" y="889" font-size="8.3px">7</text>
<text x="508" y="889" font-size="8.3px">14</text>
<text x="533" y="889" font-size="8.3px">21</text>
<text x="558" y="889" font-size="8.3px">28</text>
<text x="583" y="889" font-size="8.3px">4</text>
<text x="608" y="889" font-size="8.3px">11</text>
<text x="633" y="889" font-size="8.3px">18</text>
<text x="658" y="889" font-size="8.3px">25</text>
<text x="683" y="889" font-size="8.3px">2</text>
<text x="708" y="889" font-size="8.3px">9</text>
<text x="733" y="889" font-size="8.3px">16</text>
<text x="758" y="889" font-size="8.3px">23</text>
<text x="783" y="889" font-size="8.3px">6</text>
<text x="808" y="889" font-size="8.3px">13</text>
<text x="833" y="889" font-size="8.3px">20</text>
<text x="858" y="889" font-size="8.3px">27</text>
<text x="883" y="889" font-size="8.3px">3</text>
<text x="908" y="889" font-size="8.3px">10</text>
<text x="933" y="889" font-size="8.3px">17</text>
<text x="958" y="889" font-size="8.3px">24</text>
<text x="983" y="889" font-size="8.3px">3</text>
<text x="1008" y="889" font-size="8.3px">10</text>
<text x="1033" y="889" font-size="8.3px">17</text>
<text x="1058" y="889" font-size="8.3px">24</text>
<text x="1083" y="889" font-size="8.3px">31</text>
<text x="1108" y="889" font-size="8.3px">7</text>
<text x="1133" y="889" font-size="8.3px">14</text>
<text x="1153" y="889" font-size="8.3px">22</text>
<text x="1172" y="889" font-size="8.3px">28</text>
<text x="1193" y="889" font-size="8.3px">5</text>
<text x="1218" y="889" font-size="8.3px">12</text>
<text x="1243" y="889" font-size="8.3px">19</text>
<text x="1268" y="889" font-size="8.3px">26</text>
<text x="1293" y="889" font-size="8.3px">2</text>
<text x="1318" y="889" font-size="8.3px">9</text>
<text x="1343" y="889" font-size="8.3px">16</text>
<text x="1368" y="889" font-size="8.3px">23</text>
<text x="1393" y="889" font-size="8.3px">30</text>
<text x="1418" y="889" font-size="8.3px">7</text>
<text x="1443" y="889" font-size="8.3px">14</text>
<text x="1467" y="889" font-size="8.3px">21</text>
<text x="1493" y="889" font-size="8.3px">28</text>
<text x="1518" y="889" font-size="8.3px">4</text>
<text x="1543" y="889" font-size="8.3px">11</text>
<text x="1563" y="889" font-size="8.3px">18</text>
<text x="1588" y="889" font-size="8.3px">25</text>
<text x="1613" y="889" font-size="8.3px">1</text>
<text x="1638" y="889" font-size="8.3px">8</text>
<text x="1663" y="889" font-size="8.3px">15</text>
<text x="1688" y="889" font-size="8.3px">22</text>
<text x="1713" y="889" font-size="8.3px">29</text>
<text x="1738" y="889" font-size="8.3px">6</text>
<text x="1762" y="889" font-size="8.3px">13</text>
<text x="1788" y="889" font-size="8.3px">20</text>
<text x="1813" y="889" font-size="8.3px">27</text>
<text x="1838" y="889" font-size="8.3px">3</text>
<text x="39" y="900" font-size="8.6px">June</text>
<text x="139" y="900" font-size="8.6px">July</text>
<text x="254" y="900" font-size="8.6px">August</text>
<text x="359" y="900" font-size="8.6px">September</text>
<text x="464" y="900" font-size="8.6px">October</text>
<text x="579" y="900" font-size="8.6px">November</text>
<text x="684" y="900" font-size="8.6px">December</text>
<text x="774" y="900" font-size="8.6px">2025</text>
<text x="884" y="900" font-size="8.6px">February</text>
<text x="984" y="900" font-size="8.6px">March</text>
<text x="1088" y="900" font-size="8.6px">April</text>
<text x="1189" y="900" font-size="8.6px">May</text>
<text x="1294" y="900" font-size="8.6px">June</text>
<text x="1399" y="900" font-size="8.6px">July</text>
<text x="1514" y="900" font-size="8.6px">August</text>
<text x="1614" y="900" font-size="8.6px">September</text>
<text x="1724" y="900" font-size="8.6px">October</text>
<text x="1839" y="900" font-size="8.6px">November</text>
</g>
<text x="813" y="11" font-size="8.6px" textLength="228" lengthAdjust="spacing">DIASORIN (75.8000, 78.3800, 75.6200, 77.9400, +1.98000)</text>
</g>
<circle cx="242.2" cy="103.8" r="4.1" fill="#000"/><text x="242.2" y="106.39999999999999" text-anchor="middle" font-family="Liberation Sans, sans-serif" font-weight="bold" font-size="7px" fill="#fff">3</text>
<circle cx="147.1" cy="323" r="4.1" fill="#000"/><text x="147.1" y="325.6" text-anchor="middle" font-family="Liberation Sans, sans-serif" font-weight="bold" font-size="7px" fill="#fff">2</text>
<path d="M93 220l4-3v2h4.5v2H97v2z" fill="#ff0000"/>
<path d="M81.5 240.3l-4-3.2v2.2h-5v2h5v2.2z" fill="#008000"/>
<rect x="346.5" y="327.5" width="361" height="96" fill="#f0fff0" stroke="#000" stroke-width="1" shape-rendering="crispEdges"/>
<g font-family="Liberation Sans, sans-serif" font-weight="bold" font-size="13.3px" fill="#000">
<text x="348.6" y="339.3" textLength="319.4" lengthAdjust="spacing">Long white per Diasorin che trova forza nel corso</text>
<text x="348.6" y="355.2" textLength="355.6" lengthAdjust="spacing">della seduta e anche gli scambi per correre finoai 77,94</text>
<text x="348.6" y="371.1" textLength="52.9" lengthAdjust="spacing">in close.</text>
<text x="348.6" y="387.0" textLength="287.9" lengthAdjust="spacing">Supera i 77,5 e punta gli 80 euro per domani.</text>
<text x="348.6" y="402.9" textLength="346.9" lengthAdjust="spacing">Solito difensivo che viene usato per spostare liquidità</text>
<text x="348.6" y="418.8" textLength="285.7" lengthAdjust="spacing">quando si esce dalle banche o da Leonardo.</text>
</g>
<rect x="273.5" y="561.5" width="206" height="12" fill="#fff" stroke="#000" stroke-width="1" shape-rendering="crispEdges"/>
<text x="275.5" y="570.6" textLength="202.3" lengthAdjust="spacingAndGlyphs" font-family="Liberation Sans, sans-serif" font-weight="bold" font-size="9px" fill="#000" stroke="#000" stroke-width="0.6">COPYRIGHT@ LABORSADEIPICCOLI.COM</text>
</svg></body></html>
